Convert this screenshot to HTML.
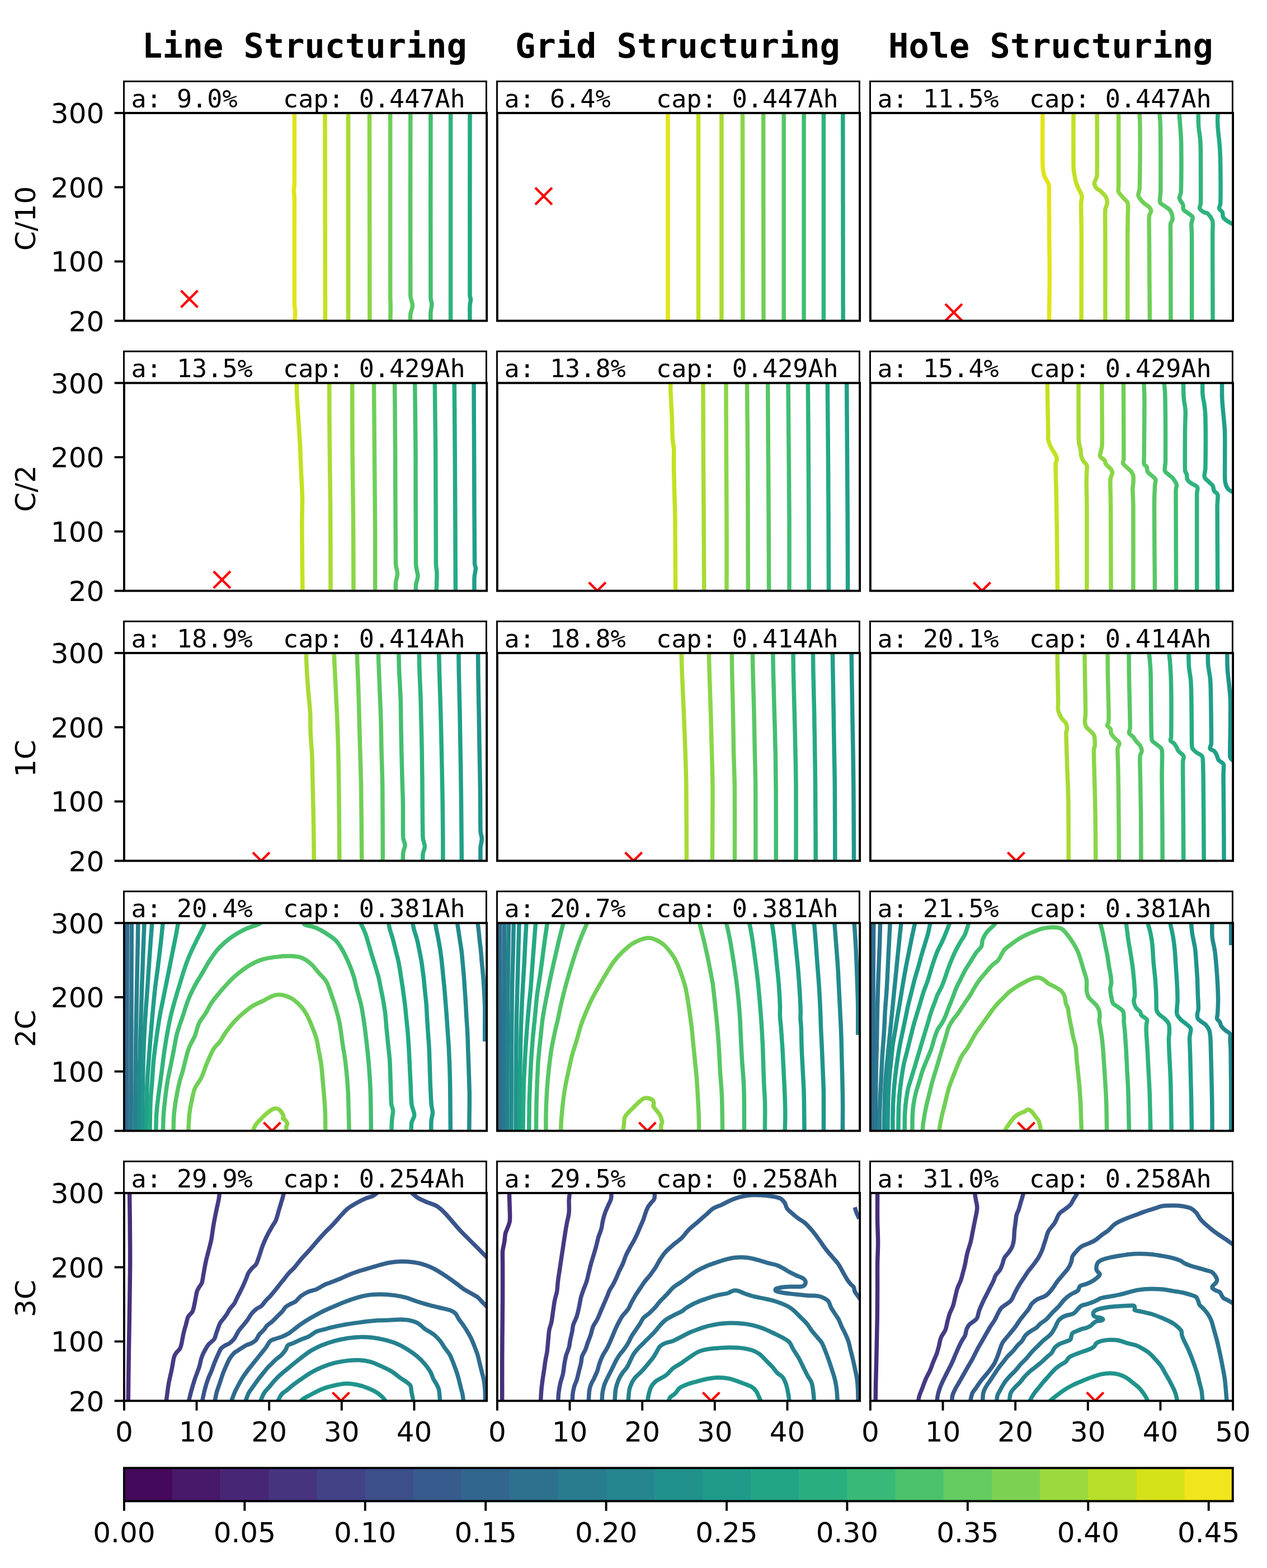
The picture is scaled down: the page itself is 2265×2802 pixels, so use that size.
<!DOCTYPE html>
<html><head><meta charset="utf-8"><title>Structuring contours</title><style>html,body{margin:0;padding:0;background:#fff;overflow:hidden;}svg{display:block;}</style></head><body>
<svg width="2265" height="2802" viewBox="0 0 2265 2802">
<rect x="0" y="0" width="2265" height="2802" fill="#ffffff"/>
<defs>
<clipPath id="cp00"><rect x="221.90" y="201.90" width="648.20" height="371.40"/></clipPath>
<clipPath id="cp01"><rect x="888.90" y="201.90" width="648.20" height="371.40"/></clipPath>
<clipPath id="cp02"><rect x="1555.90" y="201.90" width="648.20" height="371.40"/></clipPath>
<clipPath id="cp10"><rect x="221.90" y="684.40" width="648.20" height="371.40"/></clipPath>
<clipPath id="cp11"><rect x="888.90" y="684.40" width="648.20" height="371.40"/></clipPath>
<clipPath id="cp12"><rect x="1555.90" y="684.40" width="648.20" height="371.40"/></clipPath>
<clipPath id="cp20"><rect x="221.90" y="1166.90" width="648.20" height="371.40"/></clipPath>
<clipPath id="cp21"><rect x="888.90" y="1166.90" width="648.20" height="371.40"/></clipPath>
<clipPath id="cp22"><rect x="1555.90" y="1166.90" width="648.20" height="371.40"/></clipPath>
<clipPath id="cp30"><rect x="221.90" y="1649.40" width="648.20" height="371.40"/></clipPath>
<clipPath id="cp31"><rect x="888.90" y="1649.40" width="648.20" height="371.40"/></clipPath>
<clipPath id="cp32"><rect x="1555.90" y="1649.40" width="648.20" height="371.40"/></clipPath>
<clipPath id="cp40"><rect x="221.90" y="2131.90" width="648.20" height="371.40"/></clipPath>
<clipPath id="cp41"><rect x="888.90" y="2131.90" width="648.20" height="371.40"/></clipPath>
<clipPath id="cp42"><rect x="1555.90" y="2131.90" width="648.20" height="371.40"/></clipPath>
</defs>
<g clip-path="url(#cp00)" fill="none" stroke-width="7.5" stroke-linejoin="round" stroke-linecap="butt">
<path stroke="#e2e418" d="M526.3,195.6C526.3,218.2 526.5,307.3 526.3,331.3C526.2,334.9 525.2,336.6 525.2,340.1C525.2,343.8 526.2,348.0 526.3,353.2C526.5,386.8 526.0,507.2 526.3,541.5C526.3,548.5 527.8,553.2 527.8,559.0C527.8,564.9 526.5,573.6 526.3,576.5"/>
<path stroke="#c5e021" d="M581.0,195.6 L581.4,576.5"/>
<path stroke="#a8db34" d="M622.6,195.6 L622.6,576.5"/>
<path stroke="#8bd646" d="M660.5,195.6 L660.9,576.5"/>
<path stroke="#70cf57" d="M697.7,195.6C697.7,251.8 697.6,475.1 697.7,532.7C697.7,536.3 698.1,538.0 698.1,541.5C698.2,545.9 698.2,553.2 698.1,559.0C698.0,564.9 697.8,573.6 697.7,576.5"/>
<path stroke="#58c765" d="M733.8,195.6C733.8,251.1 733.2,470.0 733.8,528.4C733.9,535.5 737.5,540.4 737.5,545.9C737.5,551.4 734.4,556.1 733.8,561.2C733.2,566.3 733.8,574.0 733.8,576.5"/>
<path stroke="#42be71" d="M769.9,195.6C769.9,251.8 769.6,474.7 769.9,532.7C769.9,537.2 771.9,539.3 771.9,543.7C771.9,548.1 770.2,553.5 769.9,559.0C769.6,564.5 769.9,573.6 769.9,576.5"/>
<path stroke="#2fb47c" d="M805.6,195.6 L805.6,576.5"/>
<path stroke="#24aa83" d="M840.0,195.6C840.0,251.1 839.7,471.8 840.0,528.4C840.0,531.1 841.5,532.2 841.5,534.9C841.5,537.9 840.1,541.5 840.0,545.9C839.7,552.8 840.0,571.4 840.0,576.5"/>
<path d="M323.5,519.3L353.5,549.3M323.5,549.3L353.5,519.3" stroke="#ff0000" stroke-width="4.3" fill="none"/>
</g>
<g clip-path="url(#cp01)" fill="none" stroke-width="7.5" stroke-linejoin="round" stroke-linecap="butt">
<path stroke="#e2e418" d="M1193.9,190.4 L1193.9,581.8"/>
<path stroke="#c5e021" d="M1248.5,190.4 L1248.5,581.8"/>
<path stroke="#a8db34" d="M1289.9,190.4 L1289.9,581.8"/>
<path stroke="#8bd646" d="M1327.5,190.4 L1327.9,581.8"/>
<path stroke="#70cf57" d="M1364.6,190.4 L1365.0,581.8"/>
<path stroke="#58c765" d="M1401.2,190.4 L1401.2,581.8"/>
<path stroke="#42be71" d="M1437.1,190.4 L1437.1,581.8"/>
<path stroke="#2fb47c" d="M1472.4,190.4 L1472.4,581.8"/>
<path stroke="#24aa83" d="M1506.8,190.4 L1507.2,581.8"/>
<path d="M956.9,335.4L986.9,365.4M956.9,365.4L986.9,335.4" stroke="#ff0000" stroke-width="4.3" fill="none"/>
</g>
<g clip-path="url(#cp02)" fill="none" stroke-width="7.5" stroke-linejoin="round" stroke-linecap="butt">
<path stroke="#e2e418" d="M1863.9,190.4C1863.9,207.5 1863.5,272.4 1863.9,292.8C1864.1,301.1 1864.9,307.2 1866.6,313.3C1868.4,319.4 1873.2,324.3 1874.6,329.2C1876.0,334.2 1875.2,337.4 1875.3,342.9C1875.5,358.4 1875.6,397.9 1875.7,422.5C1875.9,447.2 1876.5,464.2 1876.4,490.8C1876.4,517.3 1875.5,566.6 1875.3,581.8"/>
<path stroke="#c5e021" d="M1919.0,190.4C1919.0,207.9 1918.8,275.4 1919.0,295.1C1919.0,300.6 1919.2,303.4 1920.1,308.8C1921.1,314.5 1922.4,322.4 1924.7,329.2C1926.9,336.1 1932.4,344.0 1933.8,349.7C1935.0,355.1 1932.7,357.9 1932.6,363.4C1932.6,375.5 1933.3,398.9 1933.3,422.5C1933.4,458.9 1933.1,555.3 1933.1,581.8"/>
<path stroke="#a8db34" d="M1961.1,190.4C1961.1,210.9 1961.8,290.6 1961.1,313.3C1960.9,319.1 1956.7,323.2 1956.5,327.0C1956.3,330.8 1958.0,333.6 1959.9,336.1C1961.8,338.5 1965.1,339.1 1967.9,341.8C1970.7,344.4 1975.1,348.4 1977.0,352.0C1978.9,355.6 1979.5,359.6 1979.3,363.4C1979.1,367.2 1976.1,370.0 1975.9,374.7C1975.3,384.6 1975.9,403.4 1975.9,422.5C1975.9,457.0 1975.9,555.3 1975.9,581.8"/>
<path stroke="#8bd646" d="M1999.7,190.4C1999.7,214.0 1999.7,306.1 1999.7,331.5C1999.7,336.1 1998.2,339.1 1999.7,342.9C2001.3,346.7 2006.1,350.9 2008.9,354.3C2011.6,357.7 2015.1,358.8 2016.1,363.4C2017.3,368.7 2016.2,377.0 2016.1,386.1C2016.1,396.0 2015.7,408.0 2015.7,422.5C2015.6,455.1 2015.7,555.3 2015.7,581.8"/>
<path stroke="#70cf57" d="M2036.2,190.4C2036.5,196.1 2037.9,210.9 2038.0,224.6C2038.2,248.8 2037.8,315.2 2037.3,336.1C2037.2,341.6 2034.1,345.5 2035.0,349.7C2036.0,353.9 2039.8,357.7 2043.0,361.1C2046.2,364.5 2051.9,367.5 2054.4,370.2C2056.4,372.4 2057.8,374.4 2057.8,377.0C2057.8,379.7 2054.6,382.2 2054.4,386.1C2053.8,393.7 2054.3,408.0 2054.4,422.5C2054.5,455.1 2055.3,555.3 2055.5,581.8"/>
<path stroke="#58c765" d="M2071.4,190.4C2071.9,196.1 2074.1,210.9 2074.4,224.6C2074.9,249.6 2074.9,317.9 2074.8,340.6C2074.8,348.8 2072.6,356.5 2073.7,361.1C2074.7,365.2 2078.8,365.6 2081.7,367.9C2084.5,370.2 2088.5,372.1 2090.8,374.7C2093.0,377.4 2094.5,380.8 2095.3,383.9C2096.1,386.9 2096.2,390.3 2095.8,393.0C2095.3,395.6 2092.9,396.8 2092.6,399.8C2092.1,404.7 2092.6,413.4 2092.6,422.5C2092.7,452.9 2093.0,555.3 2093.0,581.8"/>
<path stroke="#42be71" d="M2107.1,190.4C2107.6,196.9 2109.3,217.8 2110.1,229.1C2110.9,240.5 2111.6,246.9 2111.7,258.7C2111.9,277.7 2111.8,327.0 2111.2,342.9C2111.1,347.6 2107.9,350.5 2108.5,354.3C2109.1,358.1 2113.4,362.2 2114.7,365.6C2115.9,369.1 2114.1,372.1 2115.8,374.7C2117.5,377.4 2122.2,379.3 2124.9,381.6C2127.6,383.9 2131.3,385.4 2132.2,388.4C2133.0,391.4 2130.1,395.1 2129.9,399.8C2129.6,405.5 2130.5,413.4 2130.6,422.5C2130.7,452.9 2130.6,555.3 2130.6,581.8"/>
<path stroke="#2fb47c" d="M2142.4,190.4C2142.4,196.1 2142.1,214.3 2142.6,224.6C2143.2,234.8 2145.2,241.6 2145.8,251.9C2146.5,262.1 2146.4,272.4 2146.5,286.0C2146.6,304.6 2146.8,349.0 2146.5,363.4C2146.4,367.1 2143.7,369.8 2144.7,372.5C2145.6,375.1 2149.8,377.8 2152.2,379.3C2154.6,380.8 2156.9,379.6 2159.0,381.6C2161.5,383.9 2165.5,389.5 2167.0,393.0C2168.5,396.3 2168.0,398.4 2168.1,402.1C2168.2,407.0 2167.7,414.3 2167.7,422.5C2167.7,452.5 2168.0,555.3 2168.1,581.8"/>
<path stroke="#24aa83" d="M2177.7,190.4C2177.5,195.8 2176.3,210.2 2176.8,222.3C2177.3,234.4 2179.8,250.7 2180.6,263.3C2181.5,275.8 2181.6,283.7 2181.8,297.4C2182.0,314.1 2182.2,350.9 2181.8,363.4C2181.7,367.1 2178.9,369.8 2179.5,372.5C2180.1,375.1 2184.0,376.6 2185.2,379.3C2186.4,382.0 2185.3,385.7 2186.8,388.4C2188.3,391.1 2191.0,393.0 2194.3,395.2C2197.6,397.5 2204.7,400.9 2206.8,402.1"/>
<path d="M1690.0,543.2L1720.0,573.2M1690.0,573.2L1720.0,543.2" stroke="#ff0000" stroke-width="4.3" fill="none"/>
</g>
<g clip-path="url(#cp10)" fill="none" stroke-width="7.5" stroke-linejoin="round" stroke-linecap="butt">
<path stroke="#c5e021" d="M530.7,672.4C530.7,677.8 530.2,691.6 530.7,704.3C531.3,718.7 533.2,743.7 534.1,758.9C535.0,773.5 535.8,784.3 536.4,795.3C537.0,806.3 537.1,814.3 537.5,824.9C538.0,835.5 538.6,847.6 539.1,859.0C539.6,870.4 540.4,879.9 540.5,893.2C540.6,906.4 539.8,920.5 539.8,938.7C539.9,967.1 540.8,1042.9 541.0,1063.8"/>
<path stroke="#a8db34" d="M588.7,672.4C588.8,692.2 588.9,752.1 589.2,790.8C589.5,829.4 590.3,859.0 590.6,904.5C590.9,950.0 590.9,1037.3 591.0,1063.8"/>
<path stroke="#8bd646" d="M629.7,672.4C629.8,696.0 629.8,771.0 630.1,813.5C630.5,856.0 631.2,885.6 631.5,927.3C631.8,969.0 631.9,1041.1 632.0,1063.8"/>
<path stroke="#70cf57" d="M668.4,672.4C668.6,696.0 669.1,767.3 669.5,813.5C669.9,859.8 670.5,908.3 670.6,950.0C670.8,991.8 670.6,1044.8 670.6,1063.8"/>
<path stroke="#58c765" d="M705.5,672.4C705.7,696.0 706.3,757.8 706.6,813.5C706.9,869.3 706.9,971.7 707.5,1006.9C707.6,1014.3 710.5,1019.4 710.5,1025.1C710.5,1030.8 708.0,1034.6 707.5,1041.1C707.0,1047.5 707.5,1060.0 707.5,1063.8"/>
<path stroke="#42be71" d="M741.6,672.4C741.9,696.0 742.7,757.8 743.0,813.5C743.3,869.3 742.8,970.9 743.5,1006.9C743.6,1016.1 746.9,1023.2 746.9,1029.7C746.9,1036.1 744.0,1039.9 743.5,1045.6C743.0,1051.3 743.8,1060.8 743.9,1063.8"/>
<path stroke="#2fb47c" d="M777.1,672.4C777.4,696.0 778.3,757.8 778.7,813.5C779.1,869.3 779.0,971.7 779.4,1006.9C779.5,1014.2 780.9,1017.8 781.0,1025.1C781.1,1034.6 780.1,1057.4 779.9,1063.8"/>
<path stroke="#24aa83" d="M812.2,672.4C812.4,703.5 813.2,793.8 813.5,859.0C813.9,924.3 814.3,1029.7 814.4,1063.8"/>
<path stroke="#1fa088" d="M847.0,672.4C847.1,699.8 847.4,780.5 847.7,836.3C847.9,892.0 848.1,977.0 848.6,1006.9C848.6,1010.6 850.5,1012.3 850.4,1016.0C850.3,1020.2 848.4,1025.5 848.1,1031.9C847.7,1039.9 848.1,1058.5 848.1,1063.8"/>
<path d="M381.8,1021.1L411.8,1051.1M381.8,1051.1L411.8,1021.1" stroke="#ff0000" stroke-width="4.3" fill="none"/>
</g>
<g clip-path="url(#cp11)" fill="none" stroke-width="7.5" stroke-linejoin="round" stroke-linecap="butt">
<path stroke="#c5e021" d="M1198.9,672.4C1198.9,677.0 1198.6,688.8 1198.9,699.8C1199.3,711.9 1200.6,731.2 1201.2,745.3C1201.8,759.3 1201.8,774.5 1202.3,783.9C1202.8,791.3 1204.3,794.8 1204.6,802.1C1205.0,810.9 1204.4,823.0 1204.6,836.3C1204.8,849.5 1205.4,866.6 1205.7,881.8C1206.1,896.9 1206.7,909.1 1206.9,927.3C1207.2,957.6 1207.5,1041.1 1207.6,1063.8"/>
<path stroke="#a8db34" d="M1256.9,672.4C1257.0,696.0 1257.2,771.0 1257.4,813.5C1257.6,856.0 1257.8,885.6 1258.1,927.3C1258.3,969.0 1258.6,1041.1 1258.8,1063.8"/>
<path stroke="#8bd646" d="M1297.9,672.4C1298.0,696.0 1298.2,771.0 1298.4,813.5C1298.5,856.0 1298.9,885.6 1299.0,927.3C1299.1,969.0 1299.0,1041.1 1299.0,1063.8"/>
<path stroke="#70cf57" d="M1335.4,672.4C1335.6,696.0 1336.3,771.0 1336.6,813.5C1336.8,856.0 1336.9,885.6 1337.0,927.3C1337.1,969.0 1337.2,1041.1 1337.3,1063.8"/>
<path stroke="#58c765" d="M1372.5,672.4C1372.7,696.0 1373.2,771.0 1373.4,813.5C1373.7,856.0 1373.9,885.6 1374.1,927.3C1374.3,969.0 1374.5,1041.1 1374.6,1063.8"/>
<path stroke="#42be71" d="M1408.9,672.4C1409.1,696.0 1409.7,771.0 1410.1,813.5C1410.4,856.0 1410.8,885.6 1411.0,927.3C1411.1,969.0 1411.0,1041.1 1411.0,1063.8"/>
<path stroke="#2fb47c" d="M1444.2,672.4C1444.4,696.0 1445.1,771.0 1445.3,813.5C1445.6,856.0 1445.6,885.6 1445.8,927.3C1445.9,969.0 1446.2,1041.1 1446.2,1063.8"/>
<path stroke="#24aa83" d="M1479.2,672.4C1479.4,696.0 1480.1,771.0 1480.4,813.5C1480.7,856.0 1480.9,885.6 1481.1,927.3C1481.2,969.0 1481.4,1041.1 1481.5,1063.8"/>
<path stroke="#1fa088" d="M1513.6,672.4C1513.7,696.0 1514.2,771.0 1514.5,813.5C1514.8,856.0 1515.0,885.6 1515.2,927.3C1515.4,969.0 1515.6,1041.1 1515.6,1063.8"/>
<path d="M1052.8,1040.8L1082.8,1070.8M1052.8,1070.8L1082.8,1040.8" stroke="#ff0000" stroke-width="4.3" fill="none"/>
</g>
<g clip-path="url(#cp12)" fill="none" stroke-width="7.5" stroke-linejoin="round" stroke-linecap="butt">
<path stroke="#c5e021" d="M1872.3,672.4C1872.4,680.8 1872.5,705.8 1872.8,722.5C1873.1,739.2 1873.7,761.9 1873.9,772.6C1874.0,778.0 1873.1,781.7 1873.9,786.2C1874.8,790.8 1877.1,795.7 1879.2,799.9C1881.2,804.0 1884.3,807.8 1886.0,811.2C1887.7,814.7 1889.2,817.3 1889.4,820.3C1889.6,823.4 1887.2,825.7 1887.1,829.4C1886.9,839.7 1887.9,861.7 1888.3,881.8C1888.6,901.9 1889.1,922.7 1889.4,950.0C1889.8,980.4 1890.3,1044.8 1890.5,1063.8"/>
<path stroke="#a8db34" d="M1928.1,672.4C1928.1,688.4 1928.0,748.3 1928.1,768.0C1928.1,777.1 1928.1,784.7 1928.8,790.8C1929.4,796.3 1931.3,800.6 1931.9,804.4C1932.6,808.0 1931.9,810.5 1932.6,813.5C1933.3,816.6 1934.3,819.6 1936.0,822.6C1937.7,825.7 1941.7,828.7 1942.9,831.7C1944.0,834.8 1943.0,837.2 1942.9,840.8C1942.8,845.4 1942.2,851.7 1942.2,859.0C1942.2,869.6 1942.8,886.3 1942.9,904.5C1943.0,938.7 1942.9,1037.3 1942.9,1063.8"/>
<path stroke="#8bd646" d="M1969.7,672.4C1969.8,692.9 1970.5,772.9 1970.2,795.3C1970.1,800.0 1968.5,803.3 1967.9,806.7C1967.3,810.1 1965.6,813.1 1966.8,815.8C1967.9,818.4 1973.0,820.3 1974.7,822.6C1976.4,824.9 1975.3,827.1 1977.0,829.4C1978.9,832.1 1984.2,835.9 1986.1,838.5C1987.8,840.9 1988.6,842.5 1988.4,845.4C1988.2,848.4 1985.2,852.0 1985.0,856.7C1984.5,866.6 1985.5,885.4 1985.6,904.5C1985.8,939.0 1986.0,1037.3 1986.1,1063.8"/>
<path stroke="#70cf57" d="M2008.4,672.4C2008.5,697.1 2009.0,794.4 2008.9,820.3C2008.8,823.6 2006.6,825.7 2007.7,828.3C2008.9,831.0 2013.2,833.8 2015.7,836.3C2018.1,838.7 2020.8,840.8 2022.5,843.1C2024.2,845.4 2025.4,846.9 2025.9,849.9C2026.5,853.3 2026.1,859.8 2025.9,863.6C2025.7,867.2 2024.8,869.0 2024.8,872.7C2024.8,879.5 2025.8,891.8 2025.9,904.5C2026.1,936.4 2025.9,1037.3 2025.9,1063.8"/>
<path stroke="#58c765" d="M2044.1,672.4C2044.4,678.9 2045.8,695.6 2045.9,711.1C2046.1,734.6 2045.4,793.8 2045.3,813.5C2045.2,819.9 2044.5,826.0 2045.3,829.4C2045.8,832.0 2048.7,831.7 2049.8,834.0C2050.9,836.3 2050.1,840.4 2051.6,843.1C2053.1,845.8 2056.6,847.6 2058.9,849.9C2061.3,852.2 2064.8,853.7 2065.7,856.7C2066.7,859.8 2064.8,863.6 2064.6,868.1C2064.2,876.1 2063.5,890.0 2063.5,904.5C2063.5,937.1 2064.4,1037.3 2064.6,1063.8"/>
<path stroke="#42be71" d="M2079.4,672.4C2080.0,677.8 2082.5,691.5 2082.8,704.3C2083.5,729.7 2083.6,802.1 2083.5,824.9C2083.5,831.3 2081.5,837.0 2082.3,840.8C2083.1,844.4 2086.1,845.4 2088.5,847.6C2090.8,849.9 2094.0,851.4 2096.5,854.5C2098.9,857.5 2102.3,862.4 2103.3,865.9C2104.2,869.3 2102.2,871.3 2102.1,875.0C2101.9,881.4 2102.1,892.7 2102.1,904.5C2102.2,936.0 2102.5,1037.3 2102.6,1063.8"/>
<path stroke="#2fb47c" d="M2115.1,672.4C2115.3,678.9 2115.6,700.9 2116.2,711.1C2116.9,720.3 2118.8,724.7 2119.2,733.9C2119.6,743.4 2118.6,754.4 2118.5,768.0C2118.4,785.8 2118.0,827.5 2118.5,840.8C2118.6,843.8 2120.8,845.0 2121.5,847.6C2122.2,850.3 2121.3,854.1 2122.6,856.7C2123.9,859.4 2126.5,861.3 2129.4,863.6C2132.4,865.9 2138.7,867.4 2140.4,870.4C2142.1,873.4 2139.7,877.2 2139.7,881.8C2139.6,914.0 2139.7,1033.5 2139.7,1063.8"/>
<path stroke="#24aa83" d="M2149.9,672.4C2149.9,677.8 2149.4,696.0 2149.9,704.3C2150.4,711.7 2152.0,715.7 2152.9,722.5C2153.7,729.3 2154.8,736.1 2154.9,745.3C2155.3,764.2 2155.2,818.4 2154.9,836.3C2154.8,842.7 2152.3,848.0 2153.3,852.2C2154.4,856.4 2158.8,858.6 2161.3,861.3C2163.8,864.0 2166.6,865.5 2168.1,868.1C2169.6,870.8 2169.0,874.6 2170.4,877.2C2171.8,879.9 2176.0,880.4 2176.8,884.1C2177.7,888.6 2176.1,896.3 2176.1,904.5C2176.1,934.5 2176.7,1037.3 2176.8,1063.8"/>
<path stroke="#1fa088" d="M2184.7,672.4C2184.7,678.9 2184.3,699.0 2184.7,711.1C2185.2,723.3 2186.6,734.6 2187.5,745.3C2188.3,755.9 2189.5,763.0 2189.7,774.8C2190.1,793.0 2189.5,839.3 2189.7,854.5C2189.8,859.1 2190.2,862.4 2191.3,865.9C2192.5,869.3 2193.6,872.3 2196.6,875.0C2199.5,877.6 2207.0,880.6 2209.1,881.8"/>
<path d="M1740.5,1040.8L1770.5,1070.8M1740.5,1070.8L1770.5,1040.8" stroke="#ff0000" stroke-width="4.3" fill="none"/>
</g>
<g clip-path="url(#cp20)" fill="none" stroke-width="7.5" stroke-linejoin="round" stroke-linecap="butt">
<path stroke="#a8db34" d="M547.3,1155.4C547.4,1160.0 547.3,1171.8 547.8,1182.8C548.3,1194.9 549.4,1213.1 550.5,1228.3C551.6,1243.4 553.8,1260.5 554.6,1273.8C555.4,1287.0 554.5,1294.6 555.1,1307.9C555.6,1321.2 557.4,1340.1 558.0,1353.4C558.6,1366.7 558.4,1373.9 558.7,1387.5C559.1,1404.6 559.8,1429.2 560.3,1455.8C560.8,1482.3 561.2,1531.6 561.4,1546.8"/>
<path stroke="#8bd646" d="M597.4,1155.4C597.5,1160.0 597.4,1171.8 597.8,1182.8C598.3,1194.9 599.3,1211.2 600.1,1228.3C600.9,1245.3 602.1,1266.2 602.8,1285.1C603.6,1304.1 604.2,1321.2 604.7,1342.0C605.2,1362.9 605.5,1383.0 605.8,1410.3C606.2,1444.4 606.8,1524.1 606.9,1546.8"/>
<path stroke="#70cf57" d="M638.3,1155.4C638.4,1160.0 638.5,1171.8 638.8,1182.8C639.2,1194.9 640.0,1211.2 640.6,1228.3C641.2,1245.3 641.7,1266.2 642.2,1285.1C642.7,1304.1 643.2,1321.2 643.8,1342.0C644.4,1362.9 645.2,1383.0 645.6,1410.3C646.1,1444.4 646.6,1524.1 646.8,1546.8"/>
<path stroke="#58c765" d="M676.3,1155.4C676.4,1160.0 676.5,1171.8 676.8,1182.8C677.2,1194.9 677.9,1211.2 678.6,1228.3C679.3,1245.3 680.3,1266.2 680.9,1285.1C681.5,1304.1 681.5,1321.2 682.0,1342.0C682.5,1362.9 683.5,1383.0 683.8,1410.3C684.2,1444.4 684.2,1524.1 684.3,1546.8"/>
<path stroke="#42be71" d="M712.7,1155.4C712.9,1161.9 712.9,1178.7 713.4,1194.1C714.0,1210.1 715.5,1230.2 716.2,1251.0C716.8,1271.9 716.8,1296.5 717.3,1319.3C717.7,1342.0 718.4,1368.6 718.9,1387.5C719.4,1405.7 719.9,1414.8 720.3,1433.0C720.6,1451.2 720.1,1483.9 720.7,1496.7C721.0,1502.4 724.1,1505.8 724.1,1510.4C724.1,1514.9 721.3,1518.5 720.7,1524.1C720.1,1530.1 720.3,1543.0 720.3,1546.8"/>
<path stroke="#2fb47c" d="M749.1,1155.4C749.3,1161.9 749.4,1178.7 749.8,1194.1C750.3,1210.1 751.5,1230.2 752.1,1251.0C752.7,1271.9 753.2,1296.5 753.7,1319.3C754.2,1342.0 754.5,1360.2 754.8,1387.5C755.2,1417.1 755.2,1475.9 756.0,1496.7C756.2,1503.3 759.4,1507.7 759.4,1512.7C759.4,1517.6 756.5,1520.7 756.0,1526.3C755.4,1532.0 756.0,1543.4 756.0,1546.8"/>
<path stroke="#24aa83" d="M784.4,1155.4C784.6,1163.8 785.0,1185.8 785.6,1205.5C786.1,1225.2 787.2,1251.0 787.8,1273.8C788.5,1296.5 788.9,1319.3 789.4,1342.0C789.9,1364.8 790.4,1387.5 790.8,1410.3C791.2,1433.0 791.5,1455.8 791.7,1478.5C791.9,1501.3 791.9,1535.4 791.9,1546.8"/>
<path stroke="#1fa088" d="M819.7,1155.4C819.8,1163.8 820.0,1185.8 820.4,1205.5C820.7,1225.2 821.5,1251.0 822.0,1273.8C822.4,1296.5 822.7,1319.3 823.1,1342.0C823.5,1364.8 823.9,1387.5 824.2,1410.3C824.5,1433.0 824.7,1455.8 824.9,1478.5C825.1,1501.3 825.3,1535.4 825.4,1546.8"/>
<path stroke="#1f958b" d="M854.5,1155.4C854.6,1163.8 854.7,1185.8 854.9,1205.5C855.2,1225.2 855.7,1251.0 856.1,1273.8C856.5,1296.5 856.8,1319.3 857.2,1342.0C857.6,1364.8 858.1,1386.4 858.4,1410.3C858.7,1434.2 858.6,1470.6 859.0,1485.4C859.2,1490.9 861.3,1494.1 861.3,1499.0C861.3,1504.0 859.4,1508.5 859.0,1514.9C858.7,1522.9 859.0,1541.5 859.0,1546.8"/>
<path d="M451.9,1523.3L481.9,1553.3M451.9,1553.3L481.9,1523.3" stroke="#ff0000" stroke-width="4.3" fill="none"/>
</g>
<g clip-path="url(#cp21)" fill="none" stroke-width="7.5" stroke-linejoin="round" stroke-linecap="butt">
<path stroke="#a8db34" d="M1217.8,1155.4C1218.1,1163.8 1218.6,1185.8 1219.4,1205.5C1220.2,1225.2 1221.4,1251.0 1222.4,1273.8C1223.3,1296.5 1224.3,1319.3 1225.1,1342.0C1225.8,1364.8 1226.6,1383.0 1226.9,1410.3C1227.3,1444.4 1227.3,1524.1 1227.4,1546.8"/>
<path stroke="#8bd646" d="M1267.2,1155.4C1267.4,1163.8 1267.7,1185.8 1268.3,1205.5C1268.9,1225.2 1269.9,1251.0 1270.6,1273.8C1271.3,1296.5 1271.8,1319.3 1272.4,1342.0C1273.0,1364.8 1273.9,1383.0 1274.0,1410.3C1274.2,1444.4 1273.4,1524.1 1273.3,1546.8"/>
<path stroke="#70cf57" d="M1308.1,1155.4C1308.2,1163.8 1308.4,1185.8 1308.8,1205.5C1309.2,1225.2 1310.0,1251.0 1310.4,1273.8C1310.9,1296.5 1311.1,1319.3 1311.5,1342.0C1312.0,1364.8 1313.1,1383.0 1313.4,1410.3C1313.7,1444.4 1313.4,1524.1 1313.4,1546.8"/>
<path stroke="#58c765" d="M1345.2,1155.4C1345.4,1163.8 1345.7,1185.8 1346.1,1205.5C1346.6,1225.2 1347.4,1251.0 1348.0,1273.8C1348.5,1296.5 1348.9,1319.3 1349.3,1342.0C1349.8,1364.8 1350.5,1383.0 1350.7,1410.3C1350.9,1444.4 1350.9,1524.1 1350.9,1546.8"/>
<path stroke="#42be71" d="M1381.6,1155.4C1381.8,1163.8 1382.1,1185.8 1382.5,1205.5C1383.0,1225.2 1383.8,1251.0 1384.4,1273.8C1385.0,1296.5 1385.7,1319.3 1386.2,1342.0C1386.6,1364.8 1386.9,1383.0 1387.1,1410.3C1387.3,1444.4 1387.3,1524.1 1387.3,1546.8"/>
<path stroke="#2fb47c" d="M1417.8,1155.4C1417.9,1163.8 1418.1,1185.8 1418.5,1205.5C1418.9,1225.2 1419.7,1251.0 1420.3,1273.8C1420.9,1296.5 1421.4,1319.3 1421.9,1342.0C1422.4,1364.8 1422.9,1383.0 1423.0,1410.3C1423.2,1444.4 1423.0,1524.1 1423.0,1546.8"/>
<path stroke="#24aa83" d="M1453.3,1155.4C1453.4,1163.8 1453.6,1185.8 1454.0,1205.5C1454.4,1225.2 1455.1,1251.0 1455.6,1273.8C1456.0,1296.5 1456.4,1319.3 1456.7,1342.0C1457.1,1364.8 1457.4,1383.0 1457.6,1410.3C1457.9,1444.4 1458.2,1524.1 1458.3,1546.8"/>
<path stroke="#1fa088" d="M1488.3,1155.4C1488.5,1163.8 1488.7,1185.8 1489.0,1205.5C1489.3,1225.2 1489.8,1251.0 1490.2,1273.8C1490.5,1296.5 1490.9,1319.3 1491.3,1342.0C1491.7,1364.8 1492.2,1383.0 1492.4,1410.3C1492.7,1444.4 1492.8,1524.1 1492.9,1546.8"/>
<path stroke="#1f958b" d="M1522.0,1155.4C1522.1,1163.8 1522.4,1185.8 1522.7,1205.5C1523.0,1225.2 1523.5,1251.0 1523.8,1273.8C1524.2,1296.5 1524.6,1319.3 1525.0,1342.0C1525.3,1364.8 1525.7,1383.0 1525.9,1410.3C1526.1,1444.4 1526.5,1524.1 1526.6,1546.8"/>
<path d="M1117.6,1523.3L1147.6,1553.3M1117.6,1553.3L1147.6,1523.3" stroke="#ff0000" stroke-width="4.3" fill="none"/>
</g>
<g clip-path="url(#cp22)" fill="none" stroke-width="7.5" stroke-linejoin="round" stroke-linecap="butt">
<path stroke="#a8db34" d="M1890.1,1155.4C1890.2,1161.9 1890.3,1178.7 1890.5,1194.1C1890.8,1210.1 1891.5,1238.5 1891.7,1251.0C1891.8,1258.3 1890.7,1263.9 1891.7,1269.2C1892.6,1274.5 1895.1,1279.1 1897.4,1282.9C1899.6,1286.7 1903.6,1288.9 1905.3,1292.0C1907.0,1295.0 1907.5,1298.0 1907.6,1301.1C1907.7,1304.1 1906.0,1306.5 1906.0,1310.2C1906.0,1320.8 1907.0,1344.3 1907.6,1364.8C1908.2,1385.3 1909.5,1405.7 1909.9,1433.0C1910.3,1463.4 1910.3,1527.8 1910.3,1546.8"/>
<path stroke="#8bd646" d="M1938.8,1155.4C1938.9,1163.8 1939.2,1185.8 1939.5,1205.5C1939.8,1225.2 1940.6,1259.7 1940.6,1273.8C1940.6,1280.2 1939.3,1285.5 1939.5,1289.7C1939.6,1293.4 1940.0,1295.9 1941.7,1298.8C1943.4,1301.6 1947.3,1304.1 1949.7,1306.8C1952.1,1309.4 1954.9,1310.8 1956.1,1314.7C1957.3,1319.1 1957.3,1328.8 1957.2,1332.9C1957.1,1335.7 1955.4,1336.9 1955.4,1339.7C1955.3,1348.9 1956.1,1368.4 1956.5,1387.5C1957.0,1406.9 1957.7,1429.2 1958.1,1455.8C1958.5,1482.3 1958.7,1531.6 1958.8,1546.8"/>
<path stroke="#70cf57" d="M1980.0,1155.4C1980.0,1163.8 1980.1,1185.8 1980.4,1205.5C1980.8,1225.2 1981.8,1259.4 1982.0,1273.8C1982.1,1281.0 1982.0,1288.2 1981.5,1292.0C1981.3,1294.0 1978.6,1294.6 1979.3,1296.5C1980.0,1298.4 1984.5,1301.1 1985.6,1303.3C1986.8,1305.6 1985.0,1307.7 1986.1,1310.2C1987.3,1312.8 1990.6,1316.6 1992.9,1319.3C1995.3,1321.9 1998.9,1324.2 2000.2,1326.1C2001.3,1327.6 2001.2,1328.8 2000.9,1330.6C2000.5,1332.5 1998.1,1334.5 1997.9,1337.5C1997.6,1343.2 1998.4,1353.9 1998.6,1364.8C1998.9,1380.7 1999.5,1405.7 1999.7,1433.0C2000.1,1463.4 2000.3,1527.8 2000.4,1546.8"/>
<path stroke="#58c765" d="M2018.0,1155.4C2018.0,1163.8 2018.1,1185.8 2018.4,1205.5C2018.7,1225.2 2019.5,1257.8 2019.8,1273.8C2020.0,1284.7 2020.4,1295.0 2020.2,1301.1C2020.1,1304.8 2017.7,1307.5 2018.6,1310.2C2019.6,1312.8 2023.9,1314.7 2025.9,1317.0C2027.9,1319.3 2028.4,1321.2 2030.5,1323.8C2032.6,1326.5 2036.6,1329.9 2038.4,1332.9C2040.2,1336.0 2041.2,1339.0 2041.2,1342.0C2041.1,1345.1 2038.2,1347.3 2038.0,1351.1C2037.5,1358.7 2038.2,1373.0 2038.4,1387.5C2038.7,1405.0 2039.3,1429.2 2039.6,1455.8C2039.8,1482.3 2039.9,1531.6 2040.0,1546.8"/>
<path stroke="#42be71" d="M2053.2,1155.4C2053.8,1161.9 2055.9,1182.0 2056.6,1194.1C2057.3,1206.3 2057.1,1215.0 2057.3,1228.3C2057.5,1241.5 2057.6,1259.4 2057.8,1273.8C2058.0,1288.2 2058.1,1306.4 2058.5,1314.7C2058.6,1318.4 2058.5,1321.2 2060.0,1323.8C2061.6,1326.5 2065.4,1328.4 2068.0,1330.6C2070.7,1332.9 2074.4,1334.8 2076.0,1337.5C2077.6,1340.1 2077.5,1342.9 2077.6,1346.6C2077.8,1354.9 2077.1,1371.1 2077.1,1387.5C2077.1,1405.7 2077.6,1429.2 2077.8,1455.8C2078.0,1482.3 2078.2,1531.6 2078.2,1546.8"/>
<path stroke="#2fb47c" d="M2088.5,1155.4C2089.1,1160.8 2091.0,1175.2 2091.9,1187.3C2092.8,1199.4 2093.5,1211.9 2093.7,1228.3C2094.0,1249.9 2093.9,1301.1 2093.7,1317.0C2093.7,1319.8 2091.7,1321.9 2092.6,1323.8C2093.4,1325.7 2096.9,1326.5 2098.7,1328.4C2100.5,1330.3 2101.9,1332.9 2103.3,1335.2C2104.6,1337.5 2104.8,1339.6 2106.7,1342.0C2108.8,1344.7 2114.5,1348.1 2115.8,1351.1C2117.1,1354.2 2114.8,1356.6 2114.7,1360.2C2114.5,1366.3 2114.6,1376.6 2114.7,1387.5C2114.8,1403.5 2115.1,1429.2 2115.3,1455.8C2115.5,1482.3 2115.7,1531.6 2115.8,1546.8"/>
<path stroke="#24aa83" d="M2124.9,1155.4C2125.0,1161.1 2124.7,1179.3 2125.3,1189.6C2126.0,1199.8 2128.0,1206.6 2128.8,1216.9C2129.5,1227.1 2129.7,1237.4 2129.9,1251.0C2130.2,1270.0 2130.3,1316.2 2130.6,1330.6C2130.6,1333.4 2130.4,1335.2 2131.7,1337.5C2133.0,1339.7 2135.7,1342.0 2138.5,1344.3C2141.4,1346.6 2146.8,1348.5 2148.8,1351.1C2150.8,1353.8 2150.1,1356.5 2150.4,1360.2C2150.8,1366.3 2150.9,1376.6 2151.1,1387.5C2151.3,1403.5 2151.6,1429.2 2151.7,1455.8C2151.9,1482.3 2152.1,1531.6 2152.2,1546.8"/>
<path stroke="#1fa088" d="M2159.5,1155.4C2159.5,1160.8 2159.0,1177.4 2159.7,1187.3C2160.4,1197.2 2162.7,1204.0 2163.6,1214.6C2164.4,1225.2 2164.5,1236.4 2164.7,1251.0C2165.0,1270.0 2165.7,1314.0 2165.4,1328.4C2165.3,1332.1 2162.3,1335.2 2163.1,1337.5C2164.0,1339.7 2168.4,1340.1 2170.4,1342.0C2172.4,1343.9 2173.6,1346.2 2174.9,1348.9C2176.3,1351.5 2176.4,1355.3 2178.4,1358.0C2180.3,1360.6 2185.3,1362.5 2186.8,1364.8C2188.3,1367.1 2187.4,1368.9 2187.5,1371.6C2187.5,1375.4 2187.0,1381.2 2187.0,1387.5C2187.0,1401.6 2187.5,1429.2 2187.7,1455.8C2187.9,1482.3 2188.1,1531.6 2188.1,1546.8"/>
<path stroke="#1f958b" d="M2193.8,1155.4C2193.9,1161.9 2193.7,1182.8 2194.3,1194.1C2194.9,1205.5 2196.4,1214.2 2197.2,1223.7C2198.1,1233.2 2199.2,1240.1 2199.5,1251.0C2199.9,1263.1 2199.6,1279.8 2199.5,1296.5C2199.4,1313.2 2198.7,1341.3 2198.8,1351.1C2198.9,1353.1 2199.2,1354.2 2200.4,1355.7C2201.8,1357.4 2205.7,1360.4 2206.8,1361.4"/>
<path d="M1801.5,1523.3L1831.5,1553.3M1801.5,1553.3L1831.5,1523.3" stroke="#ff0000" stroke-width="4.3" fill="none"/>
</g>
<g clip-path="url(#cp30)" fill="none" stroke-width="7.5" stroke-linejoin="round" stroke-linecap="butt">
<path stroke="#2f6c8e" d="M227.3,1640.0C227.2,1666.7 227.0,1736.0 227.0,1800.0C226.9,1865.0 227.0,1991.7 227.0,2030.0"/>
<path stroke="#2a768e" d="M235.3,1640.0C235.2,1660.8 235.1,1721.7 235.0,1765.0C234.9,1808.3 234.7,1855.8 234.5,1900.0C234.3,1944.2 234.1,2008.3 234.0,2030.0"/>
<path stroke="#26818e" d="M247.0,1640.0C246.8,1650.0 246.4,1679.2 246.0,1700.0C245.6,1720.8 245.1,1740.0 244.6,1765.0C244.1,1790.0 243.4,1820.8 243.0,1850.0C242.6,1879.2 242.2,1910.0 242.0,1940.0C241.8,1970.0 241.6,2015.0 241.5,2030.0"/>
<path stroke="#228b8d" d="M258.4,1640.0C258.0,1650.0 256.8,1679.2 256.0,1700.0C255.2,1720.8 254.4,1740.0 253.6,1765.0C252.8,1790.0 251.8,1820.8 251.0,1850.0C250.2,1879.2 249.5,1910.0 249.0,1940.0C248.5,1970.0 248.2,2015.0 248.0,2030.0"/>
<path stroke="#1f958b" d="M272.5,1640.0C271.8,1650.0 269.5,1679.2 268.0,1700.0C266.5,1720.8 265.1,1743.3 263.6,1765.0C262.1,1786.7 260.3,1807.5 259.0,1830.0C257.7,1852.5 256.7,1872.0 256.0,1900.0C255.2,1933.3 254.3,2008.3 254.0,2030.0"/>
<path stroke="#1fa088" d="M292.0,1640.0C291.3,1646.7 289.7,1665.0 288.0,1680.0C286.3,1695.0 283.8,1715.8 282.0,1730.0C280.3,1744.0 279.0,1751.0 277.4,1765.0C275.7,1780.0 273.7,1800.8 272.0,1820.0C270.3,1839.2 268.5,1860.0 267.0,1880.0C265.5,1900.0 264.0,1916.0 263.0,1940.0C261.9,1965.0 260.9,2015.0 260.5,2030.0"/>
<path stroke="#24aa83" d="M319.8,1643.9C319.6,1644.6 319.1,1646.2 318.8,1647.8C318.0,1652.1 316.5,1660.9 314.9,1669.4C313.3,1677.9 311.3,1687.3 309.0,1698.8C306.7,1710.2 303.8,1724.9 301.2,1737.9C298.6,1751.0 296.0,1764.0 293.3,1777.1C290.7,1790.2 287.8,1803.2 285.5,1816.3C283.2,1829.3 281.4,1842.4 279.6,1855.4C277.8,1868.5 276.0,1881.5 274.7,1894.6C273.4,1907.7 272.8,1920.7 271.8,1933.8C270.8,1946.8 269.5,1957.3 268.9,1972.9C268.2,1988.6 268.0,2018.6 267.9,2027.8"/>
<path stroke="#2fb47c" d="M366.8,1643.9C366.3,1645.9 365.7,1651.2 363.8,1655.7C361.4,1661.5 356.1,1671.0 352.1,1679.2C348.1,1687.3 343.5,1696.5 340.0,1704.6C336.4,1712.8 334.0,1719.3 330.9,1728.1C327.9,1736.9 324.7,1747.7 321.7,1757.5C318.7,1767.3 315.7,1777.1 312.9,1786.9C310.1,1796.7 307.4,1806.5 305.1,1816.3C302.8,1826.1 301.0,1835.8 299.2,1845.6C297.4,1855.4 295.8,1865.2 294.3,1875.0C292.8,1884.8 291.7,1894.6 290.4,1904.4C289.1,1914.2 287.8,1924.0 286.5,1933.8C285.2,1943.6 283.7,1953.4 282.6,1963.1C281.4,1972.9 280.3,1981.8 279.6,1992.5C279.0,2003.3 278.8,2021.9 278.7,2027.8"/>
<path stroke="#42be71" d="M469.6,1645.9C468.3,1646.9 465.3,1650.1 461.8,1651.8C456.9,1654.0 447.4,1656.3 440.2,1659.6C433.0,1662.8 424.9,1667.4 418.7,1671.3C412.5,1675.3 408.2,1678.5 403.0,1683.1C397.8,1687.7 392.2,1692.9 387.3,1698.8C382.5,1704.6 378.2,1711.2 373.6,1718.3C369.1,1725.5 364.2,1734.7 359.9,1741.8C355.7,1749.0 352.1,1753.9 348.2,1761.4C344.3,1768.9 340.0,1777.7 336.4,1786.9C332.8,1796.0 329.9,1806.5 326.6,1816.3C323.4,1826.1 319.5,1835.8 316.8,1845.6C314.2,1855.4 312.9,1865.2 311.0,1875.0C309.0,1884.8 307.0,1894.6 305.1,1904.4C303.1,1914.2 300.8,1924.0 299.2,1933.8C297.6,1943.6 296.4,1953.4 295.3,1963.1C294.2,1972.9 293.0,1981.8 292.4,1992.5C291.7,2003.3 291.5,2021.9 291.4,2027.8"/>
<path stroke="#58c765" d="M310.0,2027.8C310.1,2021.9 310.1,2003.3 311.0,1992.5C311.8,1981.8 313.3,1972.9 314.9,1963.1C316.5,1953.4 318.8,1941.9 320.8,1933.8C322.7,1925.8 324.7,1921.4 326.6,1914.2C328.6,1907.0 330.6,1897.9 332.5,1890.7C334.5,1883.5 335.8,1877.6 338.4,1871.1C341.0,1864.6 345.2,1858.7 348.2,1851.5C351.1,1844.3 352.7,1834.9 356.0,1828.0C359.3,1821.2 364.2,1816.3 367.8,1810.4C371.4,1804.5 373.6,1798.6 377.6,1792.8C381.5,1786.9 386.7,1780.7 391.3,1775.1C395.8,1769.6 400.1,1764.7 405.0,1759.5C409.9,1754.2 414.1,1749.3 420.6,1743.8C427.2,1738.3 436.0,1731.1 444.1,1726.2C452.3,1721.3 460.5,1717.2 469.6,1714.4C478.7,1711.6 490.5,1710.5 499.0,1709.5C507.5,1708.5 513.8,1708.2 520.5,1708.5C527.2,1708.9 533.2,1709.2 539.1,1711.5C544.9,1713.8 550.6,1717.8 555.7,1722.3C560.7,1726.7 564.8,1732.7 569.4,1737.9C573.9,1743.1 579.5,1747.7 583.1,1753.6C586.7,1759.5 588.3,1766.0 590.9,1773.2C593.5,1780.4 596.1,1787.9 598.8,1796.7C601.4,1805.5 604.3,1814.6 606.6,1826.1C608.9,1837.5 610.5,1852.2 612.5,1865.2C614.4,1878.3 616.7,1889.7 618.3,1904.4C620.0,1919.1 621.3,1933.7 622.3,1953.4C623.2,1973.9 623.9,2015.4 624.2,2027.8"/>
<path stroke="#70cf57" d="M336.4,2027.8C336.8,2021.9 337.4,2002.3 338.4,1992.5C339.3,1983.0 340.7,1976.9 342.3,1969.0C343.9,1961.2 345.2,1952.7 348.2,1945.5C351.1,1938.3 356.3,1933.4 359.9,1925.9C363.5,1918.4 366.1,1909.0 369.7,1900.5C373.3,1892.0 377.6,1881.5 381.5,1875.0C385.2,1868.8 389.6,1866.2 393.2,1861.3C396.8,1856.4 399.1,1851.2 403.0,1845.6C406.9,1840.1 412.2,1833.2 416.7,1828.0C421.3,1822.8 424.9,1819.2 430.4,1814.3C436.0,1809.4 443.5,1802.9 450.0,1798.6C456.5,1794.4 463.1,1792.1 469.6,1788.8C476.1,1785.6 483.3,1780.8 489.2,1779.1C495.1,1777.3 499.3,1777.1 504.9,1778.1C510.4,1779.1 516.9,1781.5 522.5,1784.9C528.0,1788.4 533.9,1794.1 538.1,1798.6C542.3,1803.2 544.6,1806.5 547.8,1812.3C551.1,1818.2 554.7,1826.7 557.6,1833.9C560.6,1841.1 563.5,1848.6 565.5,1855.4C567.4,1862.3 567.9,1867.2 569.4,1875.0C570.8,1882.9 573.0,1892.6 574.3,1902.4C575.6,1912.2 576.1,1921.2 577.2,1933.8C578.4,1947.2 580.4,1967.1 581.1,1982.7C581.9,1998.4 581.6,2020.3 581.7,2027.8"/>
<path stroke="#8bd646" d="M449.0,2029.7C450.2,2026.8 453.1,2017.0 455.9,2012.1C458.7,2007.2 462.7,2003.6 465.7,2000.4C468.6,1997.1 470.6,1995.1 473.5,1992.5C476.5,1989.9 480.4,1986.7 483.3,1984.7C486.2,1982.7 488.5,1981.1 491.1,1980.8C493.8,1980.4 496.9,1981.4 499.0,1982.7C501.1,1984.0 502.6,1986.7 503.9,1988.6C505.2,1990.6 506.5,1992.9 506.8,1994.5C507.1,1996.1 505.2,1997.1 505.8,1998.4C506.5,1999.7 509.4,2000.7 510.7,2002.3C512.0,2004.0 513.5,2006.2 513.7,2008.2C513.8,2010.2 511.7,2011.6 511.7,2014.1C511.7,2017.7 513.3,2027.1 513.7,2029.7"/>
<path stroke="#42be71" d="M542.9,1643.9C543.1,1645.2 541.3,1650.0 543.9,1651.8C547.3,1654.0 557.6,1655.3 563.5,1657.6C569.4,1659.9 573.3,1661.9 579.2,1665.5C585.0,1669.1 593.5,1674.3 598.8,1679.2C604.0,1684.1 606.6,1688.3 610.5,1694.8C614.4,1701.4 618.7,1710.2 622.3,1718.3C625.8,1726.5 629.4,1735.6 632.0,1743.8C634.7,1752.0 635.6,1758.5 637.9,1767.3C640.2,1776.1 643.6,1786.9 645.8,1796.7C647.9,1806.5 649.0,1814.6 650.7,1826.1C652.3,1837.5 654.1,1852.2 655.6,1865.2C657.0,1878.3 658.3,1889.7 659.5,1904.4C660.6,1919.1 661.8,1933.7 662.4,1953.4C663.1,1973.9 663.2,2015.4 663.4,2027.8"/>
<path stroke="#2fb47c" d="M640.9,1643.9C641.7,1645.2 644.1,1648.4 645.8,1651.8C647.9,1656.0 651.3,1663.2 653.6,1669.4C655.9,1675.6 657.5,1682.4 659.5,1689.0C661.4,1695.5 663.1,1701.0 665.3,1708.5C667.6,1716.1 671.2,1727.5 673.2,1734.0C674.8,1739.5 675.8,1742.2 677.1,1747.7C678.4,1753.3 679.7,1760.8 681.0,1767.3C682.3,1773.8 683.6,1779.4 684.9,1786.9C686.2,1794.4 687.9,1804.2 688.8,1812.3C689.8,1820.5 690.0,1827.0 690.8,1835.8C691.6,1844.7 692.8,1855.4 693.7,1865.2C694.7,1875.0 695.9,1883.2 696.7,1894.6C697.4,1906.0 697.8,1920.7 698.2,1933.8C698.7,1946.8 698.9,1964.5 699.6,1972.9C700.0,1977.8 702.4,1979.9 702.6,1984.7C702.7,1989.6 701.1,1995.2 700.6,2002.3C700.1,2009.5 699.8,2023.5 699.6,2027.8"/>
<path stroke="#24aa83" d="M693.7,1643.9C694.2,1646.5 695.2,1653.7 696.7,1659.6C698.1,1665.5 700.6,1672.0 702.6,1679.2C704.5,1686.4 706.8,1696.1 708.4,1702.7C710.0,1708.9 711.1,1712.0 712.3,1718.3C713.7,1724.9 715.0,1733.7 716.3,1741.8C717.6,1750.0 718.9,1758.2 720.2,1767.3C721.5,1776.4 723.1,1788.5 724.1,1796.7C725.0,1804.5 725.3,1808.4 726.1,1816.3C726.9,1824.4 728.2,1835.8 729.0,1845.6C729.8,1855.4 730.3,1863.6 731.0,1875.0C731.6,1886.4 732.4,1904.4 732.9,1914.2C733.3,1922.0 733.5,1925.9 733.9,1933.8C734.4,1943.6 734.7,1963.1 735.8,1972.9C736.8,1981.0 740.7,1987.0 740.7,1992.5C740.7,1998.1 736.8,2000.5 735.8,2006.2C734.9,2012.1 735.0,2024.2 734.9,2027.8"/>
<path stroke="#1fa088" d="M736.8,1643.9C737.3,1646.5 738.3,1653.7 739.8,1659.6C741.2,1665.5 743.8,1672.0 745.6,1679.2C747.4,1686.4 749.2,1696.1 750.5,1702.7C751.8,1708.9 752.5,1712.0 753.5,1718.3C754.6,1725.8 756.4,1739.6 757.4,1747.7C758.3,1755.5 758.6,1759.5 759.3,1767.3C760.2,1775.5 761.6,1788.5 762.3,1796.7C762.9,1804.5 762.8,1808.4 763.3,1816.3C763.8,1824.4 764.6,1835.8 765.2,1845.6C765.9,1855.4 766.7,1865.2 767.2,1875.0C767.7,1884.8 767.8,1894.6 768.2,1904.4C768.5,1914.2 768.7,1922.3 769.1,1933.8C769.6,1945.2 770.4,1963.8 771.1,1972.9C771.6,1979.3 773.5,1983.7 773.5,1988.6C773.5,1993.5 771.5,1996.8 771.1,2002.3C770.6,2008.8 770.8,2023.5 770.7,2027.8"/>
<path stroke="#1f958b" d="M777.4,1643.9C777.8,1646.5 778.8,1653.7 779.9,1659.6C781.0,1665.5 782.6,1672.6 783.8,1679.2C785.0,1685.7 786.2,1692.2 787.2,1698.8C788.1,1705.3 788.8,1710.5 789.7,1718.3C790.6,1726.5 791.8,1739.6 792.6,1747.7C793.4,1755.6 793.9,1759.5 794.6,1767.3C795.3,1775.5 796.3,1788.5 797.0,1796.7C797.6,1804.5 798.0,1808.4 798.5,1816.3C799.1,1824.4 799.8,1835.8 800.5,1845.6C801.1,1855.4 801.8,1863.6 802.4,1875.0C803.0,1886.4 803.6,1901.1 804.0,1914.2C804.4,1927.2 804.6,1937.7 804.8,1953.4C805.0,1972.3 805.3,2015.4 805.4,2027.8"/>
<path stroke="#228b8d" d="M816.5,1643.9C817.0,1646.5 818.2,1653.7 819.1,1659.6C820.0,1665.5 821.0,1672.6 822.0,1679.2C823.0,1685.7 824.1,1692.2 825.0,1698.8C825.8,1705.3 826.2,1710.5 826.9,1718.3C827.7,1726.5 828.8,1739.6 829.5,1747.7C830.1,1755.5 830.3,1759.5 830.8,1767.3C831.4,1775.5 832.3,1788.5 832.8,1796.7C833.3,1804.5 833.3,1808.4 833.8,1816.3C834.3,1824.4 835.2,1835.8 835.7,1845.6C836.2,1855.4 836.3,1863.6 836.7,1875.0C837.1,1886.4 837.7,1901.1 838.1,1914.2C838.5,1927.2 839.1,1943.6 839.3,1953.4C839.4,1961.2 839.3,1965.1 839.3,1972.9C839.2,1985.3 838.8,2018.6 838.7,2027.8"/>
<path stroke="#26818e" d="M853.0,1643.9C853.4,1646.5 854.6,1653.7 855.3,1659.6C856.0,1665.5 856.6,1672.6 857.3,1679.2C858.0,1685.7 859.0,1692.2 859.6,1698.8C860.3,1705.3 860.6,1711.8 861.2,1718.3C861.8,1724.9 862.6,1731.4 863.1,1737.9C863.7,1744.5 864.2,1749.7 864.7,1757.5C865.3,1767.3 866.3,1783.6 866.7,1796.7C867.0,1809.7 866.7,1825.1 866.7,1835.8C866.7,1846.0 866.7,1857.1 866.7,1861.3"/>
<path d="M471.4,2005.8L501.4,2035.8M471.4,2035.8L501.4,2005.8" stroke="#ff0000" stroke-width="4.3" fill="none"/>
</g>
<g clip-path="url(#cp31)" fill="none" stroke-width="7.5" stroke-linejoin="round" stroke-linecap="butt">
<path stroke="#2f6c8e" d="M894.1,1643.9C894.1,1645.2 893.8,1648.6 893.8,1651.8C893.7,1683.7 893.8,1772.9 893.8,1835.8C893.7,1898.8 893.4,1997.4 893.4,2029.7"/>
<path stroke="#2a768e" d="M901.6,1643.9C901.6,1645.2 901.6,1648.6 901.6,1651.8C901.5,1670.7 901.2,1717.0 901.0,1757.5C900.8,1798.0 900.7,1849.2 900.6,1894.6C900.5,1940.0 900.3,2007.2 900.2,2029.7"/>
<path stroke="#26818e" d="M909.4,1643.9C909.4,1645.2 909.5,1648.6 909.4,1651.8C909.3,1664.2 908.8,1694.2 908.4,1718.3C908.1,1742.5 907.7,1767.3 907.5,1796.7C907.2,1826.1 907.2,1855.8 907.1,1894.6C906.9,1933.4 906.6,2007.2 906.5,2029.7"/>
<path stroke="#228b8d" d="M918.6,1643.9C918.6,1645.2 918.3,1648.6 918.2,1651.8C918.0,1660.9 917.7,1681.1 917.3,1698.8C916.8,1716.4 916.1,1737.9 915.7,1757.5C915.3,1777.1 915.1,1793.4 914.9,1816.3C914.7,1839.1 914.5,1863.3 914.3,1894.6C914.2,1930.2 914.0,2007.2 913.9,2029.7"/>
<path stroke="#1f958b" d="M928.4,1643.9C928.4,1645.2 928.1,1648.6 928.0,1651.8C927.7,1660.9 927.1,1681.1 926.7,1698.8C926.2,1716.4 925.6,1737.9 925.1,1757.5C924.6,1777.1 923.9,1796.7 923.5,1816.3C923.1,1835.8 923.0,1852.2 922.7,1875.0C922.5,1897.9 922.2,1927.6 922.1,1953.4C922.1,1979.1 922.1,2017.0 922.1,2029.7"/>
<path stroke="#1fa088" d="M941.1,1643.9C941.1,1645.2 940.9,1648.6 940.8,1651.8C940.4,1659.3 939.4,1676.2 938.8,1689.0C938.1,1701.7 937.7,1713.4 936.8,1728.1C936.0,1742.8 934.8,1759.1 933.9,1777.1C933.0,1795.0 932.0,1816.3 931.4,1835.8C930.7,1855.4 930.4,1875.0 930.0,1894.6C929.6,1914.2 929.2,1930.8 929.0,1953.4C928.8,1975.9 928.7,2017.0 928.6,2029.7"/>
<path stroke="#24aa83" d="M958.0,1643.9C957.9,1645.2 957.6,1648.6 957.4,1651.8C956.8,1659.3 955.4,1676.2 954.5,1689.0C953.5,1701.7 952.5,1715.1 951.5,1728.1C950.5,1741.2 949.7,1754.2 948.6,1767.3C947.4,1780.4 946.0,1791.8 944.7,1806.5C943.4,1821.2 941.9,1839.1 940.8,1855.4C939.6,1871.8 938.6,1888.1 937.8,1904.4C937.0,1920.7 936.3,1933.8 935.9,1953.4C935.4,1974.2 935.0,2017.0 934.9,2029.7"/>
<path stroke="#2fb47c" d="M978.9,1643.9C978.8,1645.2 978.4,1648.6 978.0,1651.8C977.1,1657.6 975.4,1669.7 974.0,1679.2C972.7,1688.6 971.4,1698.8 970.1,1708.5C968.8,1718.3 967.8,1726.5 966.2,1737.9C964.6,1749.3 962.0,1764.0 960.3,1777.1C958.7,1790.2 957.7,1803.2 956.4,1816.3C955.1,1829.3 953.6,1842.4 952.5,1855.4C951.4,1868.5 950.4,1881.5 949.6,1894.6C948.8,1907.7 948.2,1920.7 947.6,1933.8C947.1,1946.8 946.6,1957.3 946.2,1972.9C945.9,1988.9 945.7,2020.3 945.7,2029.7"/>
<path stroke="#42be71" d="M1007.3,1643.9C1007.2,1645.2 1007.0,1648.7 1006.4,1651.8C1005.1,1657.6 1001.6,1670.4 999.5,1679.2C997.4,1688.0 995.6,1696.1 993.6,1704.6C991.7,1713.1 989.7,1721.3 987.8,1730.1C985.8,1738.9 983.8,1748.0 981.9,1757.5C979.9,1767.0 978.0,1776.4 976.0,1786.9C974.0,1797.3 971.8,1808.8 970.1,1820.2C968.5,1831.6 967.5,1843.0 966.2,1855.4C964.9,1867.8 963.3,1881.5 962.3,1894.6C961.3,1907.7 960.9,1920.7 960.3,1933.8C959.8,1946.8 959.3,1957.3 959.0,1972.9C958.6,1988.9 958.5,2020.3 958.4,2029.7"/>
<path stroke="#58c765" d="M1050.4,1643.9C1050.1,1645.2 1049.6,1648.7 1048.5,1651.8C1046.5,1657.0 1041.9,1666.8 1038.7,1675.3C1035.4,1683.7 1032.2,1692.9 1028.9,1702.7C1025.6,1712.5 1022.0,1724.2 1019.1,1734.0C1016.2,1743.8 1013.9,1751.6 1011.3,1761.4C1008.6,1771.2 1005.7,1783.0 1003.4,1792.8C1001.1,1802.6 999.5,1811.4 997.6,1820.2C995.6,1829.0 993.6,1836.5 991.7,1845.6C989.7,1854.8 987.4,1865.2 985.8,1875.0C984.2,1884.8 983.0,1894.6 981.9,1904.4C980.7,1914.2 979.8,1924.0 978.9,1933.8C978.1,1943.6 977.5,1953.4 977.0,1963.1C976.5,1972.9 976.2,1981.4 976.0,1992.5C975.8,2003.6 976.0,2023.5 976.0,2029.7"/>
<path stroke="#70cf57" d="M1002.4,2029.7C1002.6,2025.2 1002.6,2013.3 1003.4,2002.3C1004.2,1991.2 1006.0,1973.9 1007.3,1963.1C1008.6,1952.9 1009.6,1946.5 1011.3,1937.7C1012.9,1928.9 1015.2,1919.1 1017.1,1910.3C1019.1,1901.5 1020.7,1893.3 1023.0,1884.8C1025.3,1876.3 1028.2,1868.2 1030.8,1859.3C1033.5,1850.5 1035.7,1840.7 1038.7,1831.9C1041.6,1823.1 1045.2,1814.3 1048.5,1806.5C1051.7,1798.6 1054.7,1792.1 1058.3,1784.9C1061.9,1777.7 1065.8,1770.9 1070.0,1763.4C1074.3,1755.9 1079.2,1747.4 1083.7,1739.9C1088.3,1732.4 1092.5,1724.9 1097.4,1718.3C1102.3,1711.8 1107.2,1706.3 1113.1,1700.7C1119.0,1695.2 1125.5,1689.1 1132.7,1685.0C1139.9,1681.0 1149.7,1677.2 1156.2,1676.2C1162.5,1675.3 1166.6,1677.0 1171.9,1679.2C1177.1,1681.3 1183.0,1685.0 1187.5,1689.0C1192.1,1692.9 1196.0,1698.4 1199.3,1702.7C1202.5,1706.9 1204.4,1709.5 1207.0,1714.4C1209.6,1719.3 1212.1,1724.8 1214.8,1732.0C1217.8,1739.9 1222.3,1753.3 1224.6,1761.4C1226.8,1769.1 1227.2,1773.5 1228.5,1781.0C1229.8,1788.5 1231.2,1797.3 1232.5,1806.5C1233.8,1815.6 1235.2,1826.1 1236.4,1835.8C1237.5,1845.6 1238.3,1855.4 1239.3,1865.2C1240.3,1875.0 1241.3,1884.8 1242.3,1894.6C1243.2,1904.4 1244.4,1914.2 1245.2,1924.0C1246.0,1933.8 1246.5,1941.9 1247.1,1953.4C1247.8,1964.8 1248.7,1979.8 1249.1,1992.5C1249.5,2005.3 1249.6,2023.5 1249.7,2029.7"/>
<path stroke="#8bd646" d="M1112.1,2029.7C1112.6,2026.8 1114.2,2017.7 1115.1,2012.1C1115.9,2006.6 1115.7,2000.4 1117.0,1996.4C1118.3,1992.7 1120.3,1991.5 1122.9,1988.6C1125.5,1985.7 1129.7,1981.8 1132.7,1978.8C1135.6,1975.9 1137.6,1973.6 1140.5,1971.0C1143.5,1968.4 1147.4,1964.6 1150.3,1963.1C1153.1,1961.7 1155.4,1961.7 1158.1,1962.2C1160.9,1962.7 1165.2,1964.3 1167.0,1966.1C1168.8,1967.9 1168.8,1971.1 1168.9,1972.9C1169.1,1974.6 1167.3,1975.4 1167.9,1976.9C1168.8,1978.8 1171.9,1982.1 1173.8,1984.7C1175.8,1987.3 1178.2,1989.9 1179.7,1992.5C1181.2,1995.1 1182.0,1998.1 1182.6,2000.4C1183.3,2002.6 1183.8,2004.3 1183.6,2006.2C1183.4,2008.2 1181.8,2009.6 1181.6,2012.1C1181.5,2016.0 1182.5,2026.8 1182.6,2029.7"/>
<path stroke="#58c765" d="M1249.1,1643.9C1249.4,1645.2 1250.3,1648.6 1251.1,1651.8C1252.5,1657.6 1255.8,1670.4 1257.9,1679.2C1260.0,1688.0 1261.8,1695.5 1263.8,1704.6C1265.8,1713.8 1267.9,1724.5 1269.7,1734.0C1271.5,1743.5 1273.1,1751.0 1274.6,1761.4C1276.0,1771.9 1277.2,1784.3 1278.5,1796.7C1279.8,1809.1 1281.3,1822.8 1282.4,1835.8C1283.5,1848.9 1284.5,1862.0 1285.3,1875.0C1286.2,1888.1 1286.5,1901.1 1287.3,1914.2C1288.1,1927.2 1289.6,1940.3 1290.2,1953.4C1290.9,1966.4 1291.0,1979.8 1291.2,1992.5C1291.4,2005.3 1291.5,2023.5 1291.6,2029.7"/>
<path stroke="#42be71" d="M1297.1,1643.9C1297.4,1645.2 1298.3,1648.6 1299.0,1651.8C1300.4,1657.6 1303.0,1668.7 1304.9,1679.2C1306.9,1689.6 1309.0,1703.0 1310.8,1714.4C1312.6,1725.8 1314.2,1736.6 1315.7,1747.7C1317.2,1758.8 1318.5,1769.6 1319.6,1781.0C1320.8,1792.4 1321.7,1803.9 1322.6,1816.3C1323.4,1828.7 1323.9,1842.4 1324.5,1855.4C1325.2,1868.5 1325.7,1881.5 1326.5,1894.6C1327.3,1907.7 1328.8,1920.7 1329.4,1933.8C1330.1,1946.8 1330.2,1957.3 1330.4,1972.9C1330.5,1988.9 1330.4,2020.3 1330.4,2029.7"/>
<path stroke="#2fb47c" d="M1338.2,1643.9C1338.5,1645.2 1339.6,1648.6 1340.2,1651.8C1341.3,1657.6 1343.4,1668.7 1345.1,1679.2C1346.7,1689.6 1348.3,1702.0 1350.0,1714.4C1351.6,1726.8 1353.4,1739.9 1354.9,1753.6C1356.3,1767.3 1357.6,1783.0 1358.8,1796.7C1359.9,1810.4 1360.9,1822.8 1361.7,1835.8C1362.5,1848.9 1363.1,1859.3 1363.7,1875.0C1364.3,1891.3 1365.0,1917.5 1365.6,1933.8C1366.3,1949.4 1367.3,1957.3 1367.6,1972.9C1367.9,1988.9 1367.3,2020.3 1367.2,2029.7"/>
<path stroke="#24aa83" d="M1378.4,1643.9C1378.7,1645.2 1379.8,1648.6 1380.3,1651.8C1381.3,1657.6 1382.9,1668.2 1384.2,1679.2C1385.5,1690.3 1386.9,1705.3 1388.2,1718.3C1389.5,1731.4 1391.0,1744.5 1392.1,1757.5C1393.1,1770.6 1394.0,1786.9 1394.4,1796.7C1394.7,1804.5 1394.1,1809.7 1394.4,1816.3C1394.7,1822.8 1395.6,1828.0 1396.2,1835.8C1396.9,1845.6 1398.1,1862.0 1398.9,1875.0C1399.7,1888.1 1400.2,1901.1 1400.9,1914.2C1401.5,1927.2 1402.4,1940.3 1402.8,1953.4C1403.3,1966.4 1403.8,1979.8 1403.8,1992.5C1403.8,2005.3 1403.0,2023.5 1402.8,2029.7"/>
<path stroke="#1fa088" d="M1416.6,1643.9C1416.9,1645.2 1418.1,1648.5 1418.5,1651.8C1419.5,1659.3 1421.1,1676.2 1422.4,1689.0C1423.7,1701.7 1425.2,1715.1 1426.3,1728.1C1427.5,1741.2 1428.5,1754.2 1429.3,1767.3C1430.1,1780.4 1431.0,1797.7 1431.2,1806.5C1431.4,1812.0 1430.7,1815.3 1430.9,1820.2C1431.0,1825.1 1432.0,1829.6 1432.2,1835.8C1432.6,1845.0 1432.7,1862.0 1433.2,1875.0C1433.7,1888.1 1434.5,1901.1 1435.2,1914.2C1435.8,1927.2 1436.7,1937.7 1437.1,1953.4C1437.6,1972.6 1437.9,2017.0 1438.1,2029.7"/>
<path stroke="#1f958b" d="M1454.2,1643.9C1454.4,1645.2 1455.4,1648.6 1455.7,1651.8C1456.5,1659.3 1457.7,1676.2 1458.7,1689.0C1459.6,1701.7 1460.6,1715.1 1461.6,1728.1C1462.6,1741.2 1463.7,1754.2 1464.5,1767.3C1465.4,1780.4 1466.0,1795.0 1466.5,1806.5C1467.0,1817.9 1467.0,1824.4 1467.5,1835.8C1468.0,1847.3 1468.8,1862.0 1469.4,1875.0C1470.0,1888.1 1470.5,1901.1 1471.0,1914.2C1471.5,1927.2 1472.2,1937.7 1472.4,1953.4C1472.6,1972.6 1472.4,2017.0 1472.4,2029.7"/>
<path stroke="#228b8d" d="M1491.0,1643.9C1491.1,1645.2 1491.7,1648.6 1492.0,1651.8C1492.6,1659.3 1493.9,1676.2 1494.9,1689.0C1495.9,1701.7 1497.0,1715.1 1497.8,1728.1C1498.7,1741.2 1499.1,1754.2 1499.8,1767.3C1500.4,1780.4 1501.1,1793.4 1501.8,1806.5C1502.4,1819.5 1503.2,1832.6 1503.7,1845.6C1504.2,1858.7 1504.4,1871.8 1504.7,1884.8C1505.0,1897.9 1505.3,1909.3 1505.7,1924.0C1506.0,1938.7 1506.5,1955.3 1506.6,1972.9C1506.7,1990.6 1506.3,2020.3 1506.3,2029.7"/>
<path stroke="#26818e" d="M1525.8,1643.9C1526.1,1645.2 1526.9,1648.6 1527.2,1651.8C1527.8,1657.6 1528.5,1668.2 1529.2,1679.2C1529.8,1690.3 1530.6,1705.3 1531.1,1718.3C1531.7,1731.4 1532.1,1744.5 1532.5,1757.5C1532.9,1770.6 1533.5,1781.3 1533.7,1796.7C1533.9,1812.0 1533.7,1840.7 1533.7,1849.6"/>
<path d="M1142.3,2005.8L1172.3,2035.8M1142.3,2035.8L1172.3,2005.8" stroke="#ff0000" stroke-width="4.3" fill="none"/>
</g>
<g clip-path="url(#cp32)" fill="none" stroke-width="7.5" stroke-linejoin="round" stroke-linecap="butt">
<path stroke="#2f6c8e" d="M1561.7,1643.9C1561.7,1645.2 1561.7,1648.6 1561.7,1651.8C1561.6,1670.7 1561.3,1720.3 1561.1,1757.5C1561.0,1794.7 1560.9,1829.6 1560.8,1875.0C1560.6,1920.4 1560.4,2004.0 1560.4,2029.7"/>
<path stroke="#2a768e" d="M1573.9,1643.9C1573.8,1645.2 1573.6,1648.6 1573.5,1651.8C1573.3,1659.3 1573.0,1674.6 1572.5,1689.0C1572.0,1703.3 1571.2,1720.0 1570.5,1737.9C1569.9,1755.9 1569.1,1777.1 1568.6,1796.7C1568.1,1816.3 1568.0,1835.8 1567.6,1855.4C1567.2,1875.0 1566.6,1894.6 1566.2,1914.2C1565.9,1933.8 1565.7,1953.7 1565.6,1972.9C1565.5,1992.2 1565.6,2020.3 1565.6,2029.7"/>
<path stroke="#26818e" d="M1591.7,1643.9C1591.6,1645.2 1591.3,1648.6 1591.1,1651.8C1590.7,1659.3 1589.8,1676.2 1589.1,1689.0C1588.5,1701.7 1587.8,1715.1 1587.2,1728.1C1586.5,1741.2 1586.0,1754.2 1585.2,1767.3C1584.4,1780.4 1583.1,1793.4 1582.3,1806.5C1581.5,1819.5 1581.2,1832.6 1580.3,1845.6C1579.5,1858.7 1578.2,1871.8 1577.4,1884.8C1576.6,1897.9 1576.1,1910.9 1575.4,1924.0C1574.8,1937.0 1574.0,1951.7 1573.5,1963.1C1573.0,1974.6 1572.7,1981.4 1572.5,1992.5C1572.3,2003.6 1572.2,2023.5 1572.1,2029.7"/>
<path stroke="#228b8d" d="M1611.3,1643.9C1611.2,1645.2 1611.0,1648.6 1610.7,1651.8C1610.1,1657.6 1608.7,1669.7 1607.8,1679.2C1606.8,1688.6 1605.8,1698.8 1604.8,1708.5C1603.8,1718.3 1602.9,1728.1 1601.9,1737.9C1600.9,1747.7 1599.9,1757.5 1598.9,1767.3C1598.0,1777.1 1597.0,1786.9 1596.0,1796.7C1595.0,1806.5 1594.0,1816.3 1593.1,1826.1C1592.1,1835.8 1591.1,1845.6 1590.1,1855.4C1589.1,1865.2 1588.2,1875.0 1587.2,1884.8C1586.2,1894.6 1585.1,1904.4 1584.3,1914.2C1583.4,1924.0 1582.8,1933.8 1582.3,1943.6C1581.8,1953.4 1581.6,1963.1 1581.3,1972.9C1581.1,1982.7 1580.9,1992.9 1580.7,2002.3C1580.6,2011.8 1580.4,2025.2 1580.3,2029.7"/>
<path stroke="#1f958b" d="M1636.2,1643.9C1636.0,1645.2 1635.8,1648.6 1635.2,1651.8C1634.4,1656.0 1632.6,1663.2 1631.3,1669.4C1630.0,1675.6 1628.6,1682.4 1627.3,1689.0C1626.0,1695.5 1624.7,1702.0 1623.4,1708.5C1622.1,1715.1 1620.8,1721.3 1619.5,1728.1C1618.2,1735.0 1616.9,1742.2 1615.6,1749.7C1614.3,1757.2 1613.0,1765.3 1611.7,1773.2C1610.4,1781.0 1609.1,1788.8 1607.8,1796.7C1606.4,1804.5 1605.1,1812.3 1603.8,1820.2C1602.5,1828.0 1601.2,1835.8 1599.9,1843.7C1598.6,1851.5 1597.1,1858.7 1596.0,1867.2C1594.9,1875.7 1594.0,1885.1 1593.1,1894.6C1592.1,1904.1 1590.9,1914.2 1590.1,1924.0C1589.3,1933.8 1588.7,1941.9 1588.2,1953.4C1587.7,1964.8 1587.4,1979.8 1587.2,1992.5C1587.0,2005.3 1586.9,2023.5 1586.8,2029.7"/>
<path stroke="#1fa088" d="M1664.6,1643.9C1664.2,1645.2 1663.3,1648.6 1662.6,1651.8C1661.6,1656.0 1660.3,1663.2 1658.7,1669.4C1657.0,1675.6 1654.8,1682.4 1652.8,1689.0C1650.8,1695.5 1648.9,1701.7 1646.9,1708.5C1645.0,1715.4 1643.0,1723.2 1641.0,1730.1C1639.1,1736.9 1637.1,1742.5 1635.2,1749.7C1633.2,1756.9 1631.3,1765.3 1629.3,1773.2C1627.3,1781.0 1625.2,1788.8 1623.4,1796.7C1621.6,1804.5 1620.2,1812.3 1618.5,1820.2C1616.9,1828.0 1615.3,1835.8 1613.6,1843.7C1612.0,1851.5 1610.2,1859.3 1608.7,1867.2C1607.3,1875.0 1606.0,1882.9 1604.8,1890.7C1603.6,1898.5 1602.5,1906.4 1601.5,1914.2C1600.5,1922.0 1599.7,1929.5 1598.9,1937.7C1598.2,1945.8 1597.5,1954.0 1597.0,1963.1C1596.5,1972.3 1596.2,1981.4 1596.0,1992.5C1595.8,2003.6 1596.0,2023.5 1596.0,2029.7"/>
<path stroke="#24aa83" d="M1698.8,1643.9C1698.5,1645.2 1697.9,1648.7 1696.9,1651.8C1695.4,1656.0 1692.1,1664.2 1690.0,1669.4C1687.9,1674.6 1686.4,1678.2 1684.1,1683.1C1681.9,1688.0 1678.6,1693.5 1676.3,1698.8C1674.0,1704.0 1672.4,1708.9 1670.4,1714.4C1668.5,1720.0 1666.5,1725.8 1664.6,1732.0C1662.6,1738.3 1661.0,1744.8 1658.7,1751.6C1656.4,1758.5 1653.1,1766.3 1650.8,1773.2C1648.6,1780.0 1646.9,1786.2 1645.0,1792.8C1643.0,1799.3 1641.0,1805.8 1639.1,1812.3C1637.1,1818.9 1635.2,1824.7 1633.2,1831.9C1631.3,1839.1 1629.3,1847.6 1627.3,1855.4C1625.4,1863.3 1623.4,1871.1 1621.5,1878.9C1619.5,1886.8 1617.2,1894.6 1615.6,1902.4C1614.0,1910.3 1612.8,1918.1 1611.7,1925.9C1610.5,1933.8 1609.5,1941.6 1608.7,1949.4C1607.9,1957.3 1607.2,1965.8 1606.8,1972.9C1606.4,1980.1 1606.3,1984.7 1606.2,1992.5C1606.0,2002.0 1605.9,2023.5 1605.8,2029.7"/>
<path stroke="#2fb47c" d="M1733.1,1643.9C1732.8,1645.2 1732.1,1648.7 1731.1,1651.8C1729.8,1656.0 1727.2,1664.8 1725.3,1669.4C1723.5,1673.6 1721.7,1675.3 1719.4,1679.2C1717.1,1683.1 1713.8,1688.6 1711.6,1692.9C1709.3,1697.1 1707.6,1700.4 1705.7,1704.6C1703.7,1708.9 1701.8,1713.4 1699.8,1718.3C1697.8,1723.2 1695.6,1729.4 1693.9,1734.0C1692.3,1738.6 1691.6,1741.2 1690.0,1745.8C1688.4,1750.3 1686.4,1756.2 1684.1,1761.4C1681.9,1766.6 1678.6,1771.9 1676.3,1777.1C1674.0,1782.3 1672.4,1787.5 1670.4,1792.8C1668.5,1798.0 1666.5,1802.6 1664.6,1808.4C1662.6,1814.3 1660.6,1821.5 1658.7,1828.0C1656.7,1834.5 1654.8,1841.1 1652.8,1847.6C1650.8,1854.1 1648.9,1860.7 1646.9,1867.2C1645.0,1873.7 1643.0,1880.2 1641.0,1886.8C1639.1,1893.3 1637.1,1899.8 1635.2,1906.4C1633.2,1912.9 1631.3,1919.4 1629.3,1925.9C1627.3,1932.5 1625.1,1938.3 1623.4,1945.5C1621.8,1952.7 1620.5,1961.2 1619.5,1969.0C1618.5,1976.9 1617.9,1983.1 1617.5,1992.5C1617.2,2002.6 1617.2,2023.5 1617.2,2029.7"/>
<path stroke="#42be71" d="M1780.1,1643.9C1779.8,1645.2 1780.0,1649.1 1778.1,1651.8C1775.5,1655.3 1768.0,1660.9 1764.4,1665.5C1760.8,1670.0 1758.2,1674.9 1756.6,1679.2C1755.0,1683.4 1756.6,1687.0 1754.6,1690.9C1752.7,1694.8 1748.1,1698.1 1744.8,1702.7C1741.6,1707.2 1738.3,1713.1 1735.1,1718.3C1731.8,1723.6 1728.2,1728.8 1725.3,1734.0C1722.3,1739.2 1720.0,1744.5 1717.4,1749.7C1714.8,1754.9 1711.9,1760.1 1709.6,1765.3C1707.3,1770.6 1706.0,1775.1 1703.7,1781.0C1701.4,1786.9 1698.2,1794.7 1695.9,1800.6C1693.6,1806.5 1692.0,1811.7 1690.0,1816.3C1688.1,1820.8 1686.4,1824.1 1684.1,1828.0C1681.9,1831.9 1678.6,1835.2 1676.3,1839.8C1674.0,1844.3 1672.4,1849.6 1670.4,1855.4C1668.5,1861.3 1666.8,1868.5 1664.6,1875.0C1662.3,1881.5 1659.3,1888.1 1656.7,1894.6C1654.1,1901.1 1651.2,1907.7 1648.9,1914.2C1646.6,1920.7 1645.0,1927.2 1643.0,1933.8C1641.0,1940.3 1638.8,1946.8 1637.1,1953.4C1635.5,1959.9 1634.2,1966.4 1633.2,1972.9C1632.2,1979.5 1631.6,1984.7 1631.3,1992.5C1630.9,2002.0 1630.9,2023.5 1630.9,2029.7"/>
<path stroke="#58c765" d="M1648.9,2029.7C1649.0,2026.8 1649.2,2018.3 1649.9,2012.1C1650.5,2005.9 1651.7,1999.1 1652.8,1992.5C1653.9,1986.0 1655.2,1979.5 1656.7,1972.9C1658.2,1966.4 1660.0,1959.9 1661.6,1953.4C1663.2,1946.8 1664.7,1940.3 1666.5,1933.8C1668.3,1927.2 1670.4,1920.7 1672.4,1914.2C1674.3,1907.7 1676.3,1901.1 1678.3,1894.6C1680.2,1888.1 1682.2,1881.5 1684.1,1875.0C1686.1,1868.5 1688.1,1862.0 1690.0,1855.4C1692.0,1848.9 1693.6,1841.4 1695.9,1835.8C1698.2,1830.3 1701.1,1826.1 1703.7,1822.1C1706.3,1818.2 1708.9,1815.9 1711.6,1812.3C1714.2,1808.8 1716.8,1804.5 1719.4,1800.6C1722.0,1796.7 1724.6,1792.8 1727.2,1788.8C1729.8,1784.9 1732.4,1781.3 1735.1,1777.1C1737.7,1772.9 1740.3,1767.6 1742.9,1763.4C1745.5,1759.1 1747.8,1755.6 1750.7,1751.6C1753.7,1747.7 1756.9,1744.1 1760.5,1739.9C1764.1,1735.6 1768.3,1730.1 1772.3,1726.2C1776.2,1722.3 1781.1,1719.6 1784.0,1716.4C1787.0,1713.1 1787.9,1709.9 1789.9,1706.6C1791.9,1703.3 1793.2,1699.7 1795.8,1696.8C1798.4,1693.9 1801.6,1691.9 1805.6,1689.0C1809.5,1686.0 1814.7,1682.1 1819.3,1679.2C1823.8,1676.2 1828.4,1673.6 1833.0,1671.3C1837.5,1669.1 1841.8,1667.4 1846.7,1665.5C1851.6,1663.5 1856.5,1661.0 1862.4,1659.6C1868.2,1658.2 1876.0,1657.1 1881.9,1657.1C1887.7,1657.1 1893.3,1657.5 1897.5,1659.6C1901.7,1661.6 1904.0,1665.5 1907.3,1669.4C1910.6,1673.3 1913.8,1677.9 1917.1,1683.1C1920.4,1688.3 1924.3,1694.8 1926.9,1700.7C1929.5,1706.6 1930.8,1712.1 1932.8,1718.3C1934.7,1724.5 1937.0,1732.4 1938.6,1737.9C1940.2,1743.4 1941.9,1746.4 1942.5,1751.6C1943.2,1756.9 1942.1,1764.4 1942.5,1769.3C1943.0,1774.1 1943.9,1777.7 1945.5,1781.0C1947.1,1784.3 1949.9,1786.2 1952.3,1788.8C1954.8,1791.5 1958.1,1793.7 1960.2,1796.7C1962.3,1799.6 1964.1,1803.2 1965.1,1806.5C1966.0,1809.7 1966.0,1813.3 1966.0,1816.3C1966.0,1819.2 1964.9,1820.9 1965.1,1824.1C1965.2,1827.4 1966.3,1831.1 1967.0,1835.8C1967.8,1841.1 1969.1,1848.9 1970.0,1855.4C1970.8,1862.0 1971.3,1867.2 1971.9,1875.0C1972.6,1883.2 1973.2,1894.6 1973.9,1904.4C1974.5,1914.2 1975.2,1922.3 1975.8,1933.8C1976.5,1945.2 1977.3,1957.3 1977.8,1972.9C1978.3,1988.9 1978.6,2020.3 1978.8,2029.7"/>
<path stroke="#70cf57" d="M1678.3,2029.7C1678.6,2026.8 1679.2,2018.3 1680.2,2012.1C1681.2,2005.9 1682.5,1999.7 1684.1,1992.5C1685.8,1985.3 1688.1,1976.9 1690.0,1969.0C1692.0,1961.2 1693.6,1953.0 1695.9,1945.5C1698.2,1938.0 1701.1,1930.8 1703.7,1924.0C1706.3,1917.1 1708.9,1910.6 1711.6,1904.4C1714.2,1898.2 1716.5,1892.0 1719.4,1886.8C1722.3,1881.5 1726.2,1877.6 1729.2,1873.1C1732.1,1868.5 1734.4,1863.9 1737.0,1859.3C1739.6,1854.8 1741.9,1850.2 1744.8,1845.6C1747.8,1841.1 1751.4,1836.5 1754.6,1831.9C1757.9,1827.4 1761.2,1822.8 1764.4,1818.2C1767.7,1813.7 1771.0,1808.8 1774.2,1804.5C1777.5,1800.3 1780.8,1796.4 1784.0,1792.8C1787.3,1789.2 1790.5,1786.2 1793.8,1783.0C1797.1,1779.7 1799.7,1776.4 1803.6,1773.2C1807.5,1769.9 1812.7,1766.3 1817.3,1763.4C1821.9,1760.4 1826.8,1757.8 1831.0,1755.6C1835.3,1753.3 1838.9,1751.1 1842.8,1749.7C1846.7,1748.2 1850.9,1746.7 1854.5,1746.7C1858.1,1746.7 1861.1,1747.9 1864.3,1749.7C1867.6,1751.5 1870.5,1755.2 1874.1,1757.5C1877.7,1759.8 1881.9,1761.1 1885.8,1763.4C1889.6,1765.7 1894.6,1768.3 1897.5,1771.2C1900.4,1774.2 1902.1,1777.4 1903.4,1781.0C1904.7,1784.6 1904.4,1789.2 1905.3,1792.8C1906.3,1796.4 1908.3,1798.6 1909.3,1802.6C1910.2,1806.5 1910.2,1810.8 1911.2,1816.3C1912.2,1821.8 1913.8,1829.3 1915.1,1835.8C1916.4,1842.4 1917.7,1849.6 1919.0,1855.4C1920.4,1861.3 1922.0,1864.7 1923.0,1871.1C1923.9,1877.6 1924.3,1887.4 1924.9,1894.6C1925.6,1901.8 1926.1,1906.4 1926.9,1914.2C1927.7,1922.3 1929.0,1933.8 1929.8,1943.6C1930.6,1953.4 1931.2,1961.2 1931.8,1972.9C1932.4,1987.3 1933.4,2020.3 1933.7,2029.7"/>
<path stroke="#8bd646" d="M1793.8,2029.7C1794.5,2027.8 1795.8,2021.9 1797.7,2018.0C1799.7,2014.1 1802.9,2009.8 1805.6,2006.2C1808.2,2002.6 1810.8,1999.1 1813.4,1996.4C1816.0,1993.8 1818.3,1992.2 1821.2,1990.6C1824.2,1988.9 1828.2,1988.0 1831.0,1986.7C1833.8,1985.3 1835.6,1982.7 1837.9,1982.7C1840.2,1982.7 1842.6,1984.7 1844.7,1986.7C1846.9,1988.6 1848.6,1991.9 1850.6,1994.5C1852.6,1997.1 1855.0,1999.4 1856.5,2002.3C1858.0,2005.3 1858.7,2008.1 1859.4,2012.1C1860.2,2016.7 1861.1,2026.8 1861.4,2029.7"/>
<path stroke="#42be71" d="M1966.0,1643.9C1966.3,1645.2 1966.9,1648.6 1967.6,1651.8C1968.6,1656.0 1970.6,1663.2 1971.9,1669.4C1973.3,1675.6 1974.5,1682.4 1975.8,1689.0C1977.1,1695.5 1978.6,1702.0 1979.8,1708.5C1980.9,1715.1 1981.7,1722.3 1982.7,1728.1C1983.7,1734.0 1985.0,1738.9 1985.6,1743.8C1986.3,1748.7 1986.8,1753.6 1986.6,1757.5C1986.4,1761.4 1984.7,1763.4 1984.7,1767.3C1984.7,1771.2 1985.8,1776.8 1986.6,1781.0C1987.4,1785.3 1987.8,1789.8 1989.6,1792.8C1991.3,1795.7 1994.4,1796.4 1997.4,1798.6C2000.3,1800.9 2005.2,1803.5 2007.2,1806.5C2009.1,1809.4 2008.8,1813.0 2009.1,1816.3C2009.5,1819.5 2008.9,1822.1 2009.1,1826.1C2009.5,1831.0 2010.5,1837.8 2011.1,1845.6C2011.7,1853.8 2012.4,1863.6 2013.1,1875.0C2013.7,1886.4 2014.4,1901.1 2015.0,1914.2C2015.7,1927.2 2016.5,1937.7 2017.0,1953.4C2017.6,1972.6 2018.3,2017.0 2018.5,2029.7"/>
<path stroke="#2fb47c" d="M2012.1,1643.9C2012.3,1645.2 2013.0,1648.6 2013.4,1651.8C2014.3,1657.6 2015.7,1670.7 2017.0,1679.2C2018.2,1687.7 2019.6,1694.5 2020.9,1702.7C2022.2,1710.8 2023.7,1719.0 2024.8,1728.1C2025.9,1737.3 2027.1,1749.0 2027.7,1757.5C2028.4,1766.0 2028.9,1773.8 2028.7,1779.1C2028.6,1783.0 2026.4,1785.3 2026.8,1788.8C2027.1,1792.4 2028.7,1797.3 2030.7,1800.6C2032.6,1803.9 2036.9,1806.1 2038.5,1808.4C2040.0,1810.4 2038.9,1812.4 2040.5,1814.3C2042.4,1816.6 2048.8,1819.2 2050.3,1822.1C2051.7,1825.1 2049.4,1828.0 2049.3,1831.9C2049.1,1835.8 2049.0,1840.2 2049.3,1845.6C2049.6,1852.8 2050.6,1863.6 2051.2,1875.0C2051.9,1886.4 2052.5,1901.1 2053.2,1914.2C2053.9,1927.2 2054.6,1937.7 2055.2,1953.4C2055.8,1972.6 2056.8,2017.0 2057.1,2029.7"/>
<path stroke="#24aa83" d="M2051.2,1643.9C2051.5,1645.2 2051.9,1648.7 2052.6,1651.8C2053.6,1656.0 2055.9,1663.2 2057.1,1669.4C2058.4,1675.6 2059.3,1681.1 2060.1,1689.0C2060.9,1697.1 2061.2,1708.5 2062.0,1718.3C2062.8,1728.1 2064.1,1737.9 2065.0,1747.7C2065.8,1757.5 2066.5,1767.6 2066.9,1777.1C2067.3,1786.6 2066.7,1798.6 2067.5,1804.5C2068.0,1808.1 2069.5,1809.7 2071.8,1812.3C2074.2,1815.0 2078.7,1817.2 2081.6,1820.2C2084.5,1823.1 2088.0,1825.7 2089.4,1830.0C2090.9,1834.2 2090.4,1841.4 2090.4,1845.6C2090.4,1849.6 2089.4,1851.5 2089.4,1855.4C2089.4,1862.0 2089.9,1873.4 2090.4,1884.8C2090.9,1896.2 2091.9,1910.9 2092.4,1924.0C2092.9,1937.0 2093.1,1947.5 2093.3,1963.1C2093.7,1980.8 2094.2,2018.6 2094.3,2029.7"/>
<path stroke="#1fa088" d="M2090.4,1643.9C2090.7,1645.2 2091.7,1648.6 2092.4,1651.8C2093.5,1657.0 2096.0,1667.4 2097.3,1675.3C2098.6,1683.1 2099.4,1689.9 2100.2,1698.8C2101.0,1707.6 2101.5,1718.3 2102.2,1728.1C2102.8,1737.9 2103.6,1747.7 2104.1,1757.5C2104.6,1767.3 2105.1,1779.7 2105.1,1786.9C2105.1,1792.4 2104.3,1796.4 2104.1,1800.6C2104.0,1804.8 2103.0,1808.8 2104.1,1812.3C2105.3,1815.9 2108.2,1819.2 2111.0,1822.1C2113.8,1825.1 2117.8,1827.4 2120.8,1830.0C2123.7,1832.6 2127.5,1834.9 2128.6,1837.8C2129.7,1840.7 2127.9,1844.7 2127.6,1847.6C2127.3,1850.5 2126.6,1852.3 2126.6,1855.4C2126.6,1861.6 2127.3,1873.4 2127.6,1884.8C2127.9,1896.2 2128.3,1910.9 2128.6,1924.0C2128.9,1937.0 2129.3,1947.5 2129.6,1963.1C2129.9,1980.8 2130.4,2018.6 2130.6,2029.7"/>
<path stroke="#1f958b" d="M2128.6,1643.9C2128.8,1645.2 2129.2,1648.6 2129.6,1651.8C2130.1,1656.0 2130.4,1662.4 2131.5,1669.4C2132.7,1676.6 2135.3,1686.7 2136.4,1694.8C2137.6,1703.0 2137.7,1709.5 2138.4,1718.3C2139.0,1727.2 2139.9,1737.9 2140.4,1747.7C2140.8,1757.5 2141.0,1768.0 2141.3,1777.1C2141.7,1786.2 2142.5,1796.7 2142.3,1802.6C2142.2,1806.5 2140.5,1809.4 2140.4,1812.3C2140.2,1815.3 2140.0,1817.9 2141.3,1820.2C2142.6,1822.5 2145.7,1824.1 2148.2,1826.1C2150.6,1828.0 2153.7,1829.3 2156.0,1831.9C2158.3,1834.5 2160.6,1837.8 2161.9,1841.7C2163.2,1845.6 2163.5,1849.9 2163.9,1855.4C2164.3,1862.6 2164.5,1873.4 2164.8,1884.8C2165.2,1896.2 2165.5,1909.3 2165.8,1924.0C2166.1,1938.7 2166.6,1955.3 2166.8,1972.9C2167.0,1990.6 2167.1,2020.3 2167.2,2029.7"/>
<path stroke="#228b8d" d="M2166.4,1643.9C2166.5,1645.2 2166.7,1648.6 2166.8,1651.8C2166.9,1657.0 2166.4,1667.4 2167.2,1675.3C2168.0,1683.1 2170.4,1689.9 2171.7,1698.8C2172.9,1707.6 2173.8,1718.3 2174.6,1728.1C2175.4,1737.9 2176.1,1747.7 2176.6,1757.5C2177.1,1767.3 2177.6,1777.7 2177.6,1786.9C2177.6,1796.0 2176.9,1806.8 2176.6,1812.3C2176.4,1815.5 2175.0,1817.9 2175.6,1820.2C2176.3,1822.5 2179.2,1823.8 2180.5,1826.1C2181.8,1828.3 2181.6,1831.3 2183.4,1833.9C2185.2,1836.5 2188.7,1839.4 2191.3,1841.7C2193.9,1844.0 2197.8,1845.0 2199.1,1847.6C2200.4,1850.2 2199.0,1853.5 2199.1,1857.4C2199.3,1862.0 2199.9,1868.0 2200.1,1875.0C2200.3,1887.7 2200.6,1910.3 2200.7,1933.8C2200.8,1959.6 2200.7,2013.7 2200.7,2029.7"/>
<path stroke="#26818e" d="M2200.7,1643.9 L2200.7,1689.0"/>
<path d="M1819.6,2005.8L1849.6,2035.8M1819.6,2035.8L1849.6,2005.8" stroke="#ff0000" stroke-width="4.3" fill="none"/>
</g>
<g clip-path="url(#cp40)" fill="none" stroke-width="7.5" stroke-linejoin="round" stroke-linecap="butt">
<path stroke="#472e7c" d="M231.6,2125.9C231.6,2126.9 231.6,2129.4 231.6,2131.8C231.7,2140.9 232.1,2161.2 232.2,2180.8C232.4,2202.0 232.7,2233.0 232.6,2259.1C232.5,2285.2 232.0,2311.3 231.6,2337.4C231.3,2363.5 230.7,2386.7 230.3,2415.8C229.9,2444.8 229.3,2495.7 229.1,2511.7"/>
<path stroke="#443b84" d="M296.3,2511.7C297.1,2505.5 299.4,2485.3 301.2,2474.5C303.0,2463.8 305.4,2455.3 307.0,2447.1C308.7,2438.9 309.7,2430.5 311.0,2425.6C311.9,2422.2 313.1,2420.3 314.9,2417.7C316.7,2415.1 320.1,2412.8 321.7,2409.9C323.4,2407.0 323.7,2404.1 324.7,2400.1C325.8,2395.2 327.3,2386.1 328.6,2380.5C329.9,2375.0 331.2,2371.4 332.5,2366.8C333.8,2362.2 334.5,2357.0 336.4,2353.1C338.4,2349.2 342.3,2347.6 344.3,2343.3C346.2,2339.1 346.9,2333.5 348.2,2327.6C349.5,2321.8 350.8,2312.6 352.1,2308.1C353.1,2304.7 354.5,2302.8 356.0,2300.2C357.5,2297.6 359.7,2295.9 360.9,2292.4C362.2,2288.5 362.7,2282.9 363.8,2276.7C365.0,2270.5 366.5,2261.4 367.8,2255.2C369.1,2249.0 370.1,2245.8 371.7,2239.5C373.3,2233.0 375.9,2224.2 377.6,2216.0C379.2,2207.8 380.0,2199.0 381.5,2190.5C382.9,2182.1 384.7,2173.2 386.4,2165.1C388.0,2156.9 390.2,2148.1 391.3,2141.6C392.3,2135.4 392.6,2128.5 392.8,2125.9"/>
<path stroke="#3f4889" d="M335.4,2511.7C336.6,2507.2 340.2,2492.2 342.3,2484.3C344.4,2476.5 345.9,2471.6 348.2,2464.7C350.5,2457.9 354.1,2449.4 356.0,2443.2C358.0,2437.0 358.6,2431.8 359.9,2427.5C361.2,2423.5 362.0,2421.5 363.8,2417.7C365.8,2413.8 369.4,2407.3 371.7,2404.0C373.6,2401.3 375.6,2400.1 377.6,2398.1C379.5,2396.2 381.8,2395.2 383.4,2392.3C385.1,2389.3 385.7,2385.1 387.3,2380.5C389.0,2375.9 391.3,2368.8 393.2,2364.9C395.0,2361.3 397.1,2359.6 399.1,2357.0C401.1,2354.4 403.0,2352.1 405.0,2349.2C406.9,2346.2 408.6,2342.7 410.8,2339.4C413.1,2336.1 416.7,2332.5 418.7,2329.6C420.6,2326.7 421.0,2324.9 422.6,2321.8C424.2,2318.5 426.5,2313.9 428.5,2310.0C430.4,2306.1 432.4,2302.5 434.3,2298.3C436.3,2294.0 438.6,2288.5 440.2,2284.6C441.8,2280.7 442.5,2277.7 444.1,2274.8C445.8,2271.8 447.7,2269.5 450.0,2266.9C452.3,2264.3 455.9,2262.0 457.9,2259.1C459.8,2256.2 460.5,2252.9 461.8,2249.3C463.1,2245.7 464.4,2241.5 465.7,2237.6C467.0,2233.6 467.8,2230.4 469.6,2225.8C471.6,2220.9 474.5,2214.0 477.4,2208.2C480.4,2202.3 484.6,2195.1 487.2,2190.5C489.5,2186.6 491.4,2185.0 493.1,2180.8C495.1,2175.9 497.0,2167.7 499.0,2161.2C500.9,2154.6 503.2,2147.5 504.9,2141.6C506.5,2135.7 508.1,2128.5 508.8,2125.9"/>
<path stroke="#3a548c" d="M359.9,2511.7C360.9,2507.2 363.8,2492.2 365.8,2484.3C367.8,2476.5 369.7,2470.3 371.7,2464.7C373.6,2459.2 375.6,2455.9 377.6,2451.0C379.5,2446.1 381.5,2440.3 383.4,2435.4C385.4,2430.5 387.3,2425.9 389.3,2421.6C391.3,2417.4 392.9,2412.8 395.2,2409.9C397.5,2407.0 400.4,2405.7 403.0,2404.0C405.6,2402.4 408.2,2402.1 410.8,2400.1C413.5,2398.1 416.1,2395.9 418.7,2392.3C421.3,2388.7 423.9,2382.5 426.5,2378.6C429.1,2374.6 431.7,2372.0 434.3,2368.8C437.0,2365.5 439.6,2362.6 442.2,2359.0C444.8,2355.4 447.4,2350.5 450.0,2347.2C452.6,2344.0 454.9,2341.7 457.9,2339.4C460.8,2337.1 464.7,2336.1 467.6,2333.5C470.6,2330.9 472.9,2326.7 475.5,2323.7C478.1,2320.8 480.4,2319.2 483.3,2315.9C486.2,2312.6 490.2,2307.7 493.1,2304.1C496.0,2300.5 498.3,2297.6 500.9,2294.3C503.5,2291.1 506.2,2287.8 508.8,2284.6C511.4,2281.3 513.7,2278.0 516.6,2274.8C519.5,2271.5 522.7,2269.1 526.4,2265.0C530.1,2260.7 534.8,2254.2 539.1,2249.3C543.3,2244.4 547.7,2240.2 551.8,2235.6C555.8,2231.0 558.9,2227.1 563.5,2221.9C568.1,2216.7 573.9,2209.8 579.2,2204.3C584.4,2198.7 589.6,2194.1 594.8,2188.6C600.1,2183.0 605.9,2175.9 610.5,2171.0C615.0,2166.1 617.7,2162.8 622.3,2159.2C626.8,2155.6 632.7,2152.4 637.9,2149.4C643.1,2146.5 648.7,2143.7 653.6,2141.6C658.5,2139.5 662.7,2139.3 667.3,2136.7C671.9,2134.1 678.7,2127.7 681.0,2125.9"/>
<path stroke="#3a548c" d="M730.0,2125.9C732.6,2128.2 740.4,2136.0 745.6,2139.6C750.9,2143.2 755.4,2144.8 761.3,2147.5C767.2,2150.1 775.3,2152.0 780.9,2155.3C786.4,2158.6 789.7,2162.1 794.6,2167.0C799.5,2171.9 805.4,2179.1 810.3,2184.7C815.2,2190.2 819.1,2195.1 824.0,2200.3C828.9,2205.6 834.8,2211.1 839.6,2216.0C844.5,2220.9 847.9,2224.2 853.4,2229.7C858.9,2235.3 869.7,2246.0 872.9,2249.3"/>
<path stroke="#34608d" d="M382.5,2511.7C383.3,2507.8 385.6,2495.1 387.3,2488.2C389.1,2481.4 391.3,2476.5 393.2,2470.6C395.2,2464.7 397.1,2458.2 399.1,2453.0C401.1,2447.8 403.0,2443.5 405.0,2439.3C406.9,2435.0 408.6,2431.1 410.8,2427.5C413.1,2423.9 416.4,2420.0 418.7,2417.7C420.7,2415.7 422.6,2415.1 424.6,2413.8C426.5,2412.5 428.0,2411.4 430.4,2409.9C433.0,2408.3 437.0,2405.7 440.2,2404.0C443.5,2402.4 447.1,2401.7 450.0,2400.1C453.0,2398.5 455.6,2396.8 457.9,2394.2C460.1,2391.6 461.4,2387.4 463.7,2384.4C466.0,2381.5 469.3,2379.2 471.6,2376.6C473.8,2374.0 474.8,2371.4 477.4,2368.8C480.0,2366.2 484.0,2363.9 487.2,2360.9C490.5,2358.0 494.1,2354.1 497.0,2351.1C500.0,2348.2 502.6,2345.9 504.9,2343.3C507.1,2340.7 508.1,2337.8 510.7,2335.5C513.3,2333.2 517.6,2331.2 520.5,2329.6C523.5,2328.0 525.6,2327.8 528.4,2325.7C531.3,2323.4 534.2,2318.8 538.1,2315.9C542.0,2313.0 547.2,2310.0 551.8,2308.1C556.3,2306.1 560.9,2306.1 565.5,2304.1C570.0,2302.2 575.3,2298.3 579.2,2296.3C582.9,2294.4 585.0,2293.9 589.0,2292.4C593.2,2290.8 599.1,2288.8 604.6,2286.5C610.2,2284.2 616.7,2281.0 622.3,2278.7C627.8,2276.4 632.0,2274.8 637.9,2272.8C643.8,2270.8 651.0,2268.9 657.5,2266.9C664.0,2265.0 670.6,2262.8 677.1,2261.1C683.6,2259.3 690.2,2257.3 696.7,2256.2C703.2,2255.0 709.7,2254.4 716.3,2254.2C722.8,2254.0 729.3,2254.4 735.8,2255.2C742.4,2256.0 748.9,2257.1 755.4,2259.1C762.0,2261.1 768.5,2263.7 775.0,2266.9C781.5,2270.2 788.1,2274.4 794.6,2278.7C801.1,2282.9 808.3,2288.1 814.2,2292.4C820.1,2296.6 825.0,2300.9 829.9,2304.1C834.8,2307.4 839.6,2309.7 843.6,2312.0C847.5,2314.3 850.4,2315.6 853.4,2317.8C856.3,2320.1 858.1,2322.5 861.2,2325.7C864.5,2328.9 871.0,2335.5 872.9,2337.4"/>
<path stroke="#2f6c8e" d="M410.8,2511.7C412.2,2508.1 416.1,2496.4 418.7,2490.2C421.3,2484.0 423.9,2479.4 426.5,2474.5C429.1,2469.6 431.4,2465.4 434.3,2460.8C437.3,2456.2 441.2,2451.0 444.1,2447.1C447.1,2443.2 449.4,2440.6 452.0,2437.3C454.6,2434.1 457.2,2430.8 459.8,2427.5C462.4,2424.3 465.0,2421.0 467.6,2417.7C470.3,2414.5 472.9,2411.5 475.5,2407.9C478.1,2404.3 480.4,2398.8 483.3,2396.2C486.2,2393.6 489.5,2393.6 493.1,2392.3C496.7,2391.0 500.9,2390.0 504.9,2388.4C508.8,2386.7 513.3,2384.4 516.6,2382.5C519.9,2380.5 521.3,2379.0 524.4,2376.6C527.9,2374.0 531.9,2370.4 537.1,2366.8C542.3,2363.2 549.6,2358.6 555.7,2355.1C561.7,2351.5 566.8,2348.5 573.3,2345.3C579.8,2342.0 587.3,2338.7 594.8,2335.5C602.3,2332.2 610.5,2328.6 618.3,2325.7C626.2,2322.7 634.7,2319.8 641.8,2317.8C649.0,2315.9 654.9,2314.7 661.4,2313.9C668.0,2313.1 673.5,2312.8 681.0,2313.0C688.5,2313.1 699.0,2313.9 706.5,2314.9C714.0,2315.9 719.5,2317.0 726.1,2318.8C732.6,2320.6 739.1,2323.6 745.6,2325.7C752.2,2327.8 758.7,2329.8 765.2,2331.6C771.8,2333.4 778.3,2334.8 784.8,2336.5C791.3,2338.1 799.5,2339.6 804.4,2341.3C808.7,2342.9 811.6,2344.6 814.2,2347.2C816.8,2349.8 818.1,2354.1 820.1,2357.0C822.0,2360.0 823.7,2361.6 825.9,2364.9C828.2,2368.1 831.2,2372.4 833.8,2376.6C836.4,2380.8 839.3,2385.7 841.6,2390.3C843.9,2394.9 845.5,2399.1 847.5,2404.0C849.4,2408.9 851.7,2414.5 853.4,2419.7C855.0,2424.9 856.0,2430.1 857.3,2435.4C858.6,2440.6 859.9,2445.8 861.2,2451.0C862.5,2456.2 864.1,2461.1 865.1,2466.7C866.1,2472.2 866.7,2477.2 867.1,2484.3C867.5,2491.8 867.4,2507.2 867.5,2511.7"/>
<path stroke="#2a768e" d="M436.3,2511.7C437.6,2508.1 441.5,2495.7 444.1,2490.2C446.5,2485.1 449.0,2482.7 452.0,2478.4C454.9,2474.2 458.8,2468.7 461.8,2464.7C464.7,2460.8 467.0,2458.2 469.6,2454.9C472.2,2451.7 474.8,2448.1 477.4,2445.1C480.0,2442.2 482.7,2439.9 485.3,2437.3C487.9,2434.7 490.2,2432.1 493.1,2429.5C496.0,2426.9 500.0,2424.6 502.9,2421.6C505.8,2418.7 508.8,2414.8 510.7,2411.9C512.7,2408.9 512.4,2406.0 514.6,2404.0C516.9,2402.1 520.6,2401.8 524.4,2400.1C528.3,2398.4 533.5,2395.7 538.1,2393.7C542.6,2391.8 547.2,2390.7 551.8,2388.4C556.3,2386.0 560.9,2381.7 565.5,2379.5C570.0,2377.4 573.7,2377.1 579.2,2375.6C584.7,2374.2 592.2,2372.2 598.8,2370.7C605.3,2369.3 611.8,2368.0 618.3,2366.8C624.9,2365.7 631.4,2364.8 637.9,2363.9C644.5,2363.0 651.0,2362.0 657.5,2361.3C664.0,2360.6 670.6,2360.0 677.1,2359.6C683.6,2359.2 690.2,2359.2 696.7,2359.0C703.2,2358.7 710.4,2357.9 716.3,2358.0C722.1,2358.1 726.7,2358.2 731.9,2359.4C737.2,2360.5 743.0,2362.3 747.6,2364.9C752.2,2367.4 754.8,2371.4 759.3,2374.6C763.9,2377.9 770.4,2380.8 775.0,2384.4C779.6,2388.0 783.5,2392.3 786.8,2396.2C790.0,2400.1 791.7,2403.7 794.6,2407.9C797.5,2412.2 801.8,2417.1 804.4,2421.6C807.0,2426.2 808.3,2430.5 810.3,2435.4C812.2,2440.3 814.5,2446.1 816.1,2451.0C817.8,2455.9 818.8,2459.8 820.1,2464.7C821.4,2469.6 822.8,2475.8 824.0,2480.4C825.1,2485.0 826.1,2487.4 826.9,2492.2C827.8,2497.4 829.0,2508.5 829.5,2511.7"/>
<path stroke="#26818e" d="M462.7,2511.7C464.2,2508.1 468.5,2495.7 471.6,2490.2C474.5,2484.9 478.1,2482.4 481.4,2478.4C484.6,2474.5 487.9,2470.3 491.1,2466.7C494.4,2463.1 497.3,2460.2 500.9,2456.9C504.5,2453.6 508.8,2450.4 512.7,2447.1C516.6,2443.8 520.2,2440.7 524.4,2437.3C528.7,2433.9 532.9,2430.5 538.1,2426.5C543.3,2422.6 549.5,2417.6 555.7,2413.8C561.9,2410.1 568.1,2407.0 575.3,2404.0C582.4,2401.1 590.9,2398.3 598.8,2396.2C606.6,2394.1 614.4,2392.4 622.3,2391.3C630.1,2390.1 638.6,2389.5 645.8,2389.3C652.9,2389.2 658.5,2389.5 665.3,2390.3C672.2,2391.1 680.0,2392.6 686.9,2394.2C693.7,2395.9 699.9,2397.5 706.5,2400.1C713.0,2402.7 719.5,2406.0 726.1,2409.9C732.6,2413.8 740.1,2419.0 745.6,2423.6C751.2,2428.2 755.4,2432.7 759.3,2437.3C763.3,2441.9 766.5,2446.5 769.1,2451.0C771.8,2455.6 773.1,2460.8 775.0,2464.7C777.0,2468.7 779.3,2471.3 780.9,2474.5C782.5,2477.8 784.1,2480.2 784.8,2484.3C785.9,2490.5 786.8,2507.2 787.2,2511.7"/>
<path stroke="#228b8d" d="M493.1,2511.7C494.7,2508.5 499.6,2496.7 502.9,2492.2C505.8,2488.1 509.1,2487.3 512.7,2484.3C516.3,2481.4 520.2,2477.8 524.4,2474.5C528.7,2471.3 532.9,2468.3 538.1,2464.7C543.3,2461.1 549.5,2456.6 555.7,2453.0C561.9,2449.4 568.1,2446.1 575.3,2443.2C582.4,2440.3 590.9,2437.3 598.8,2435.4C606.6,2433.4 615.1,2432.3 622.3,2431.4C629.4,2430.6 635.3,2430.1 641.8,2430.5C648.4,2430.8 654.9,2431.6 661.4,2433.4C668.0,2435.2 674.5,2438.3 681.0,2441.2C687.5,2444.2 694.7,2447.4 700.6,2451.0C706.5,2454.6 711.7,2459.5 716.3,2462.8C720.8,2466.0 725.1,2468.3 728.0,2470.6C730.6,2472.7 732.6,2473.5 733.9,2476.5C735.2,2479.4 734.9,2483.6 735.8,2488.2C737.0,2494.1 739.9,2507.8 740.7,2511.7"/>
<path stroke="#1f958b" d="M534.2,2511.7C535.0,2510.1 535.8,2504.9 539.1,2501.9C542.6,2498.7 549.6,2495.4 555.7,2492.2C561.7,2488.9 568.7,2485.0 575.3,2482.4C581.8,2479.7 587.7,2478.1 594.8,2476.5C602.0,2474.9 611.2,2472.9 618.3,2472.6C625.5,2472.2 631.4,2473.2 637.9,2474.5C644.5,2475.8 651.6,2478.1 657.5,2480.4C663.4,2482.7 668.6,2485.3 673.2,2488.2C677.7,2491.2 681.3,2494.1 684.9,2498.0C688.5,2501.9 693.1,2509.5 694.7,2511.7"/>
<path d="M594.5,2488.3L624.5,2518.3M594.5,2518.3L624.5,2488.3" stroke="#ff0000" stroke-width="4.3" fill="none"/>
</g>
<g clip-path="url(#cp41)" fill="none" stroke-width="7.5" stroke-linejoin="round" stroke-linecap="butt">
<path stroke="#472e7c" d="M910.4,2125.9C910.4,2127.2 910.3,2130.6 910.4,2133.8C910.5,2138.0 910.8,2144.3 911.0,2151.4C911.1,2159.2 912.1,2173.2 911.4,2180.8C910.7,2187.3 907.8,2192.5 906.5,2196.4C905.4,2199.6 904.2,2201.0 903.5,2204.3C902.7,2208.2 902.4,2214.7 901.6,2219.9C900.8,2225.1 899.1,2229.2 898.6,2235.6C898.2,2242.1 898.6,2249.7 898.6,2259.1C898.6,2272.8 898.7,2298.3 898.6,2317.8C898.5,2337.4 898.2,2357.0 898.1,2376.6C897.9,2396.2 897.7,2412.8 897.7,2435.4C897.6,2457.9 897.7,2499.0 897.7,2511.7"/>
<path stroke="#443b84" d="M1018.1,2125.9C1018.1,2127.2 1018.3,2130.6 1018.1,2133.8C1018.0,2137.0 1017.3,2140.8 1017.1,2145.5C1017.0,2151.1 1017.8,2160.2 1017.1,2167.0C1016.5,2173.9 1014.5,2179.4 1013.2,2186.6C1011.9,2193.8 1010.4,2203.0 1009.3,2210.1C1008.2,2217.3 1007.3,2223.2 1006.4,2229.7C1005.4,2236.2 1004.4,2242.8 1003.4,2249.3C1002.4,2255.8 1001.5,2262.4 1000.5,2268.9C999.5,2275.4 998.4,2281.9 997.6,2288.5C996.7,2295.0 996.6,2302.2 995.6,2308.1C994.6,2313.9 992.8,2317.8 991.7,2323.7C990.5,2329.6 989.7,2336.8 988.7,2343.3C987.8,2349.8 986.9,2357.3 985.8,2362.9C984.7,2368.4 982.9,2371.1 981.9,2376.6C980.9,2382.2 980.6,2389.7 979.9,2396.2C979.3,2402.7 978.8,2409.9 978.0,2415.8C977.1,2421.6 975.8,2426.5 975.0,2431.4C974.2,2436.3 973.9,2439.7 973.1,2445.1C972.3,2450.7 971.0,2458.2 970.1,2464.7C969.3,2471.3 968.4,2476.5 967.8,2484.3C967.1,2492.2 966.5,2507.2 966.2,2511.7"/>
<path stroke="#3f4889" d="M1092.5,2125.9C1092.5,2128.5 1093.4,2137.0 1092.5,2141.6C1091.7,2146.2 1089.4,2149.1 1087.6,2153.3C1085.8,2157.6 1083.4,2162.5 1081.8,2167.0C1080.1,2171.6 1079.0,2175.9 1077.8,2180.8C1076.7,2185.7 1076.2,2191.5 1074.9,2196.4C1073.6,2201.3 1071.5,2205.2 1070.0,2210.1C1068.5,2215.0 1067.4,2220.9 1066.1,2225.8C1064.8,2230.7 1063.8,2234.0 1062.2,2239.5C1060.5,2245.1 1057.9,2253.2 1056.3,2259.1C1054.7,2265.0 1053.7,2269.5 1052.4,2274.8C1051.1,2280.0 1050.1,2285.2 1048.5,2290.4C1046.8,2295.7 1044.2,2301.5 1042.6,2306.1C1041.0,2310.7 1039.9,2313.0 1038.7,2317.8C1037.4,2323.1 1036.1,2331.6 1034.8,2337.4C1033.5,2343.3 1032.5,2348.2 1030.8,2353.1C1029.2,2358.0 1026.3,2362.6 1025.0,2366.8C1023.7,2371.1 1023.9,2373.9 1023.0,2378.6C1022.0,2383.5 1020.1,2391.3 1019.1,2396.2C1018.2,2400.9 1018.3,2403.7 1017.1,2407.9C1016.0,2412.2 1013.5,2417.1 1012.2,2421.6C1010.9,2426.2 1010.3,2429.8 1009.3,2435.4C1008.3,2440.9 1007.7,2448.7 1006.4,2454.9C1005.1,2461.1 1002.8,2466.7 1001.5,2472.6C1000.2,2478.4 999.2,2483.7 998.5,2490.2C997.9,2496.7 997.7,2508.1 997.6,2511.7"/>
<path stroke="#3a548c" d="M1169.9,2125.9C1169.9,2128.5 1170.9,2137.7 1169.9,2141.6C1168.9,2145.4 1166.0,2146.8 1164.0,2149.4C1162.1,2152.0 1159.8,2154.3 1158.1,2157.3C1156.5,2160.2 1155.5,2163.5 1154.2,2167.0C1152.9,2170.6 1151.9,2174.6 1150.3,2178.8C1148.7,2183.0 1146.4,2187.9 1144.4,2192.5C1142.5,2197.1 1140.5,2202.0 1138.6,2206.2C1136.6,2210.5 1135.0,2213.7 1132.7,2218.0C1130.4,2222.2 1127.1,2227.4 1124.9,2231.7C1122.6,2235.9 1120.9,2238.9 1119.0,2243.4C1117.0,2248.0 1115.1,2254.5 1113.1,2259.1C1111.1,2263.7 1109.2,2266.6 1107.2,2270.8C1105.3,2275.1 1103.3,2280.3 1101.3,2284.6C1099.4,2288.8 1097.4,2292.7 1095.5,2296.3C1093.5,2299.9 1091.2,2302.8 1089.6,2306.1C1088.0,2309.4 1087.3,2312.0 1085.7,2315.9C1084.0,2319.8 1081.8,2325.0 1079.8,2329.6C1077.8,2334.2 1075.9,2338.7 1073.9,2343.3C1072.0,2347.9 1070.3,2352.4 1068.1,2357.0C1065.8,2361.6 1062.2,2366.2 1060.2,2370.7C1058.3,2375.3 1057.9,2379.5 1056.3,2384.4C1054.7,2389.3 1052.1,2395.5 1050.4,2400.1C1048.8,2404.7 1048.1,2407.9 1046.5,2411.9C1044.9,2415.8 1041.9,2419.7 1040.6,2423.6C1039.3,2427.5 1039.7,2430.8 1038.7,2435.4C1037.7,2439.9 1036.1,2445.8 1034.8,2451.0C1033.5,2456.2 1032.2,2462.4 1030.8,2466.7C1029.6,2470.7 1028.1,2472.6 1026.9,2476.5C1025.8,2480.4 1024.6,2484.6 1024.0,2490.2C1023.3,2496.1 1023.2,2508.1 1023.0,2511.7"/>
<path stroke="#3a548c" d="M1528.2,2157.3C1528.7,2158.9 1529.8,2163.6 1531.1,2167.0C1532.4,2170.5 1535.2,2176.0 1536.0,2177.8"/>
<path stroke="#34608d" d="M1538.0,2321.8C1536.4,2319.5 1530.1,2311.6 1528.2,2308.1C1526.6,2305.2 1527.5,2302.5 1526.2,2300.2C1524.9,2297.9 1522.3,2296.6 1520.4,2294.3C1518.4,2292.1 1516.6,2289.8 1514.5,2286.5C1512.2,2282.9 1509.3,2277.4 1506.6,2272.8C1504.0,2268.2 1501.8,2263.3 1498.8,2259.1C1495.9,2254.9 1492.6,2251.6 1489.0,2247.3C1485.4,2243.1 1480.9,2238.2 1477.3,2233.6C1473.7,2229.1 1470.7,2224.5 1467.5,2219.9C1464.2,2215.4 1460.9,2210.5 1457.7,2206.2C1454.4,2202.0 1451.2,2198.1 1447.9,2194.5C1444.6,2190.9 1441.7,2187.6 1438.1,2184.7C1434.5,2181.7 1430.3,2179.8 1426.3,2176.8C1422.4,2173.9 1417.9,2170.0 1414.6,2167.0C1411.3,2164.1 1408.7,2162.1 1406.8,2159.2C1404.8,2156.3 1404.8,2152.4 1402.8,2149.4C1400.9,2146.5 1398.9,2143.5 1395.0,2141.6C1391.1,2139.6 1385.2,2138.6 1379.3,2137.7C1373.5,2136.7 1366.3,2136.0 1359.8,2135.7C1353.2,2135.4 1346.7,2135.1 1340.2,2135.7C1333.6,2136.4 1326.5,2138.0 1320.6,2139.6C1314.7,2141.3 1310.1,2143.2 1304.9,2145.5C1299.7,2147.8 1294.2,2151.1 1289.3,2153.3C1284.4,2155.6 1280.1,2156.3 1275.5,2159.2C1271.0,2162.1 1266.7,2166.7 1261.8,2171.0C1256.9,2175.2 1251.4,2180.1 1246.2,2184.7C1240.9,2189.2 1235.1,2193.8 1230.5,2198.4C1225.9,2203.0 1223.3,2207.7 1218.8,2212.1C1214.2,2216.5 1208.0,2220.6 1203.1,2224.8C1198.3,2229.1 1193.4,2233.1 1189.5,2237.6C1185.6,2242.0 1182.6,2246.7 1179.7,2251.3C1176.8,2255.8 1174.8,2260.4 1171.9,2265.0C1168.9,2269.5 1165.3,2274.4 1162.1,2278.7C1158.8,2282.9 1155.2,2286.5 1152.3,2290.4C1149.3,2294.3 1147.0,2298.3 1144.4,2302.2C1141.8,2306.1 1139.2,2309.7 1136.6,2313.9C1134.0,2318.2 1131.1,2323.4 1128.8,2327.6C1126.5,2331.9 1125.5,2335.5 1122.9,2339.4C1120.3,2343.3 1115.7,2347.6 1113.1,2351.1C1110.5,2354.7 1109.2,2357.3 1107.2,2360.9C1105.3,2364.5 1103.3,2368.4 1101.3,2372.7C1099.4,2376.9 1097.4,2381.8 1095.5,2386.4C1093.5,2391.0 1091.6,2395.9 1089.6,2400.1C1087.6,2404.3 1085.7,2408.3 1083.7,2411.9C1081.8,2415.4 1079.8,2417.7 1077.8,2421.6C1075.9,2425.6 1073.6,2430.8 1072.0,2435.4C1070.3,2439.9 1069.7,2444.5 1068.1,2449.1C1066.4,2453.6 1064.1,2458.5 1062.2,2462.8C1060.2,2467.0 1057.8,2470.6 1056.3,2474.5C1054.8,2478.4 1053.9,2481.5 1053.4,2486.3C1052.6,2492.5 1052.2,2507.5 1052.0,2511.7"/>
<path stroke="#2f6c8e" d="M1534.1,2511.7C1534.0,2507.2 1534.0,2492.2 1533.7,2484.3C1533.3,2476.5 1533.0,2471.3 1532.1,2464.7C1531.2,2458.2 1529.5,2451.4 1528.2,2445.1C1526.9,2438.9 1525.6,2433.1 1524.3,2427.5C1523.0,2422.0 1521.7,2417.1 1520.4,2411.9C1519.1,2406.6 1518.1,2401.1 1516.4,2396.2C1514.8,2391.3 1512.5,2386.7 1510.6,2382.5C1508.6,2378.2 1506.6,2375.0 1504.7,2370.7C1502.7,2366.5 1501.1,2361.3 1498.8,2357.0C1496.5,2352.8 1493.3,2348.9 1491.0,2345.3C1488.7,2341.7 1486.7,2338.7 1485.1,2335.5C1483.5,2332.2 1483.1,2328.3 1481.2,2325.7C1479.2,2323.1 1476.6,2321.4 1473.4,2319.8C1470.1,2318.2 1466.5,2316.7 1461.6,2315.9C1456.4,2315.1 1448.5,2315.4 1442.0,2314.9C1435.5,2314.4 1429.6,2313.8 1422.4,2313.0C1415.3,2312.1 1404.8,2311.0 1398.9,2310.0C1394.2,2309.2 1389.1,2308.2 1387.2,2307.1C1385.8,2306.3 1385.8,2303.9 1387.2,2303.2C1389.1,2302.0 1394.7,2300.9 1398.9,2300.2C1403.2,2299.6 1407.7,2299.4 1412.6,2299.2C1417.5,2299.1 1424.4,2299.4 1428.3,2299.2C1431.5,2299.1 1434.2,2299.4 1436.1,2298.3C1438.1,2297.1 1439.7,2294.3 1440.1,2292.4C1440.4,2290.4 1439.4,2288.1 1438.1,2286.5C1436.8,2284.9 1434.8,2283.9 1432.2,2282.6C1429.6,2281.3 1426.0,2280.3 1422.4,2278.7C1418.8,2277.0 1414.3,2274.8 1410.7,2272.8C1407.1,2270.8 1404.5,2268.9 1400.9,2266.9C1397.3,2265.0 1393.7,2262.7 1389.1,2261.1C1384.6,2259.4 1379.3,2258.8 1373.5,2257.1C1367.6,2255.5 1360.4,2252.9 1353.9,2251.3C1347.4,2249.6 1340.8,2248.0 1334.3,2247.3C1327.8,2246.7 1321.2,2246.7 1314.7,2247.3C1308.2,2248.0 1301.3,2249.6 1295.1,2251.3C1288.9,2252.9 1283.1,2255.2 1277.5,2257.1C1272.0,2259.1 1267.1,2260.7 1261.8,2263.0C1256.6,2265.3 1250.7,2268.2 1246.2,2270.8C1241.6,2273.5 1239.0,2275.4 1234.4,2278.7C1229.8,2281.9 1223.8,2286.8 1218.8,2290.4C1213.7,2294.0 1208.7,2296.3 1204.1,2300.2C1199.6,2304.1 1195.5,2309.7 1191.4,2313.9C1187.4,2318.2 1183.0,2322.1 1179.7,2325.7C1176.4,2329.3 1175.1,2331.9 1171.9,2335.5C1168.6,2339.1 1163.7,2344.0 1160.1,2347.2C1156.5,2350.5 1152.9,2352.1 1150.3,2355.1C1147.7,2358.0 1146.7,2361.3 1144.4,2364.9C1142.2,2368.4 1139.2,2372.7 1136.6,2376.6C1134.0,2380.5 1131.1,2384.4 1128.8,2388.4C1126.5,2392.3 1125.2,2396.2 1122.9,2400.1C1120.6,2404.0 1117.7,2408.3 1115.1,2411.9C1112.4,2415.4 1109.5,2418.4 1107.2,2421.6C1104.9,2424.9 1103.3,2427.8 1101.3,2431.4C1099.4,2435.0 1097.4,2439.3 1095.5,2443.2C1093.5,2447.1 1091.6,2451.0 1089.6,2454.9C1087.6,2458.9 1085.4,2463.1 1083.7,2466.7C1082.1,2470.3 1080.9,2472.6 1079.8,2476.5C1078.7,2480.4 1077.5,2484.6 1076.9,2490.2C1076.2,2496.1 1076.1,2508.1 1075.9,2511.7"/>
<path stroke="#2a768e" d="M1497.6,2511.7C1497.3,2507.2 1496.7,2491.8 1495.9,2484.3C1495.1,2477.2 1494.4,2472.9 1492.9,2466.7C1491.5,2460.5 1489.0,2453.3 1487.1,2447.1C1485.1,2440.9 1483.1,2435.0 1481.2,2429.5C1479.2,2423.9 1477.3,2418.7 1475.3,2413.8C1473.4,2408.9 1471.7,2404.0 1469.4,2400.1C1467.2,2396.2 1464.5,2393.9 1461.6,2390.3C1458.7,2386.7 1455.1,2382.8 1451.8,2378.6C1448.5,2374.3 1445.6,2369.1 1442.0,2364.9C1438.4,2360.6 1434.2,2357.0 1430.3,2353.1C1426.3,2349.2 1422.4,2344.6 1418.5,2341.3C1414.6,2338.1 1411.8,2336.0 1406.8,2333.5C1401.5,2330.9 1393.7,2327.8 1387.2,2325.7C1380.7,2323.6 1374.1,2322.3 1367.6,2320.8C1361.1,2319.3 1353.9,2318.3 1348.0,2316.9C1342.1,2315.4 1336.9,2313.6 1332.3,2312.0C1327.8,2310.3 1323.9,2308.1 1320.6,2307.1C1317.6,2306.2 1315.0,2305.9 1312.8,2306.1C1310.5,2306.3 1308.8,2307.2 1306.9,2308.1C1304.9,2308.9 1303.5,2310.3 1301.0,2311.0C1296.8,2312.1 1287.3,2313.4 1281.4,2314.9C1275.5,2316.4 1270.3,2318.3 1265.8,2319.8C1261.2,2321.3 1258.2,2322.1 1254.0,2323.7C1249.8,2325.4 1244.9,2327.3 1240.3,2329.6C1235.7,2331.9 1230.2,2335.1 1226.6,2337.4C1223.3,2339.5 1222.1,2341.3 1218.8,2343.3C1214.8,2345.6 1208.0,2348.5 1203.1,2351.1C1198.3,2353.8 1193.4,2356.0 1189.5,2359.0C1185.6,2361.9 1183.0,2365.2 1179.7,2368.8C1176.4,2372.4 1173.2,2376.9 1169.9,2380.5C1166.6,2384.1 1163.4,2387.0 1160.1,2390.3C1156.8,2393.6 1153.6,2396.8 1150.3,2400.1C1147.0,2403.4 1143.5,2406.6 1140.5,2409.9C1137.6,2413.2 1135.0,2416.1 1132.7,2419.7C1130.4,2423.3 1128.8,2427.5 1126.8,2431.4C1124.9,2435.4 1123.2,2439.6 1120.9,2443.2C1118.6,2446.8 1115.4,2449.7 1113.1,2453.0C1110.8,2456.2 1108.9,2459.5 1107.2,2462.8C1105.6,2466.0 1104.5,2469.0 1103.3,2472.6C1102.2,2476.2 1101.0,2479.5 1100.4,2484.3C1099.6,2490.8 1098.7,2507.2 1098.4,2511.7"/>
<path stroke="#26818e" d="M1456.1,2511.7C1455.7,2507.5 1454.6,2493.1 1453.8,2486.3C1453.0,2480.0 1452.5,2475.2 1450.8,2470.6C1449.2,2466.0 1446.4,2463.4 1444.0,2458.9C1441.5,2454.3 1438.8,2448.4 1436.1,2443.2C1433.5,2438.0 1431.2,2432.7 1428.3,2427.5C1425.4,2422.3 1421.5,2416.8 1418.5,2411.9C1415.6,2407.0 1413.9,2401.7 1410.7,2398.1C1407.4,2394.6 1403.5,2392.9 1398.9,2390.3C1394.4,2387.7 1389.1,2385.3 1383.3,2382.5C1377.4,2379.7 1370.2,2376.1 1363.7,2373.7C1357.2,2371.2 1350.6,2369.3 1344.1,2367.8C1337.6,2366.3 1331.0,2365.4 1324.5,2364.9C1318.0,2364.3 1311.5,2364.1 1304.9,2364.3C1298.4,2364.4 1291.9,2364.9 1285.3,2365.8C1278.8,2366.7 1271.6,2368.3 1265.8,2369.7C1259.9,2371.2 1255.3,2372.8 1250.1,2374.6C1244.9,2376.4 1239.6,2378.2 1234.4,2380.5C1229.2,2382.8 1224.0,2385.7 1218.8,2388.4C1213.5,2391.0 1208.0,2394.2 1203.1,2396.2C1198.3,2398.1 1193.4,2398.5 1189.5,2400.1C1185.6,2401.7 1182.3,2403.4 1179.7,2406.0C1177.1,2408.6 1175.8,2412.5 1173.8,2415.8C1171.9,2419.0 1170.2,2422.3 1167.9,2425.6C1165.7,2428.8 1163.0,2431.8 1160.1,2435.4C1157.2,2438.9 1153.2,2443.8 1150.3,2447.1C1147.4,2450.4 1145.1,2452.3 1142.5,2454.9C1139.9,2457.6 1136.9,2459.8 1134.6,2462.8C1132.4,2465.7 1130.4,2469.0 1128.8,2472.6C1127.1,2476.2 1125.6,2479.4 1124.9,2484.3C1123.8,2490.8 1122.9,2507.2 1122.5,2511.7"/>
<path stroke="#228b8d" d="M1412.2,2511.7C1411.7,2507.8 1410.0,2494.8 1408.7,2488.2C1407.5,2481.9 1406.4,2477.1 1404.8,2472.6C1403.2,2468.0 1401.5,2464.1 1398.9,2460.8C1396.3,2457.6 1392.1,2455.9 1389.1,2453.0C1386.2,2450.0 1384.6,2446.8 1381.3,2443.2C1378.0,2439.6 1373.5,2435.4 1369.6,2431.4C1365.6,2427.5 1362.0,2422.8 1357.8,2419.7C1353.6,2416.6 1349.6,2414.6 1344.1,2412.8C1338.5,2411.0 1331.0,2409.7 1324.5,2408.9C1318.0,2408.1 1311.5,2407.9 1304.9,2407.9C1298.4,2407.9 1291.9,2408.4 1285.3,2408.9C1278.8,2409.4 1272.0,2409.7 1265.8,2410.9C1259.6,2412.0 1253.7,2413.3 1248.1,2415.8C1242.6,2418.2 1237.4,2422.3 1232.5,2425.6C1227.6,2428.8 1223.6,2432.1 1218.8,2435.4C1213.9,2438.6 1207.7,2441.6 1203.1,2445.1C1198.6,2448.7 1195.0,2454.0 1191.4,2456.9C1187.9,2459.8 1184.9,2460.8 1181.6,2462.8C1178.4,2464.7 1174.8,2466.0 1171.9,2468.7C1168.9,2471.3 1166.0,2474.9 1164.0,2478.4C1162.1,2482.0 1161.2,2485.4 1160.1,2490.2C1158.8,2495.7 1156.8,2508.1 1156.2,2511.7"/>
<path stroke="#1f958b" d="M1363.7,2511.7C1362.4,2508.8 1357.8,2498.4 1355.8,2494.1C1354.4,2490.9 1353.9,2488.9 1351.9,2486.3C1350.0,2483.7 1347.9,2480.6 1344.1,2478.4C1339.5,2475.8 1331.0,2473.1 1324.5,2470.6C1318.0,2468.2 1311.5,2465.2 1304.9,2463.8C1298.4,2462.3 1291.9,2461.8 1285.3,2461.8C1278.8,2461.8 1272.3,2462.6 1265.8,2463.8C1259.2,2464.9 1252.7,2466.9 1246.2,2468.7C1239.6,2470.4 1231.8,2472.6 1226.6,2474.5C1221.7,2476.4 1218.1,2477.8 1214.8,2480.4C1211.6,2483.0 1209.9,2487.3 1207.0,2490.2C1204.1,2493.1 1199.6,2494.4 1197.3,2498.0C1195.0,2501.6 1194.1,2509.5 1193.4,2511.7"/>
<path d="M1256.3,2488.3L1286.3,2518.3M1256.3,2518.3L1286.3,2488.3" stroke="#ff0000" stroke-width="4.3" fill="none"/>
</g>
<g clip-path="url(#cp42)" fill="none" stroke-width="7.5" stroke-linejoin="round" stroke-linecap="butt">
<path stroke="#472e7c" d="M1568.6,2125.9C1568.6,2127.2 1568.6,2130.6 1568.6,2133.8C1568.6,2142.9 1568.4,2166.4 1568.6,2180.8C1568.7,2195.1 1569.6,2206.9 1569.6,2219.9C1569.6,2233.0 1568.7,2246.0 1568.6,2259.1C1568.4,2272.2 1568.6,2282.6 1568.6,2298.3C1568.5,2314.6 1568.5,2337.4 1568.2,2357.0C1567.9,2376.6 1567.4,2396.2 1567.0,2415.8C1566.6,2435.4 1566.0,2458.5 1565.6,2474.5C1565.3,2489.4 1565.2,2505.5 1565.1,2511.7"/>
<path stroke="#443b84" d="M1742.9,2125.9C1742.9,2127.2 1742.6,2130.6 1742.9,2133.8C1743.2,2137.0 1744.2,2141.3 1744.8,2145.5C1745.5,2149.7 1747.1,2153.7 1746.8,2159.2C1746.5,2165.1 1744.2,2173.9 1742.9,2180.8C1741.6,2187.6 1740.3,2193.8 1739.0,2200.3C1737.7,2206.9 1736.7,2213.4 1735.1,2219.9C1733.4,2226.5 1730.8,2233.0 1729.2,2239.5C1727.5,2246.0 1726.6,2253.2 1725.3,2259.1C1724.0,2265.0 1722.7,2269.9 1721.3,2274.8C1720.0,2279.7 1719.1,2283.9 1717.4,2288.5C1715.8,2293.0 1713.2,2297.3 1711.6,2302.2C1709.9,2307.1 1708.9,2312.6 1707.6,2317.8C1706.3,2323.1 1705.4,2328.6 1703.7,2333.5C1702.1,2338.4 1699.5,2342.7 1697.8,2347.2C1696.2,2351.8 1695.2,2356.0 1693.9,2360.9C1692.6,2365.8 1692.0,2371.7 1690.0,2376.6C1688.1,2381.5 1684.1,2385.4 1682.2,2390.3C1680.2,2395.2 1679.6,2401.1 1678.3,2406.0C1677.0,2410.9 1676.0,2415.1 1674.3,2419.7C1672.7,2424.3 1670.4,2428.5 1668.5,2433.4C1666.5,2438.3 1664.9,2443.8 1662.6,2449.1C1660.3,2454.3 1657.0,2459.5 1654.8,2464.7C1652.5,2470.0 1650.8,2475.2 1648.9,2480.4C1646.9,2485.6 1644.4,2490.8 1643.0,2496.1C1641.6,2501.3 1641.0,2509.1 1640.7,2511.7"/>
<path stroke="#3f4889" d="M1829.5,2125.9C1829.4,2127.2 1829.7,2130.7 1829.1,2133.8C1828.3,2137.3 1826.5,2142.9 1825.1,2147.5C1823.8,2152.0 1822.5,2157.3 1821.2,2161.2C1819.9,2165.1 1818.3,2167.0 1817.3,2171.0C1816.3,2174.9 1816.0,2179.8 1815.4,2184.7C1814.7,2189.6 1813.9,2195.1 1813.4,2200.3C1812.9,2205.6 1813.1,2211.4 1812.4,2216.0C1811.8,2220.6 1810.9,2224.2 1809.5,2227.8C1808.0,2231.3 1805.9,2234.3 1803.6,2237.6C1801.3,2240.8 1797.7,2243.8 1795.8,2247.3C1793.8,2250.9 1793.2,2255.5 1791.9,2259.1C1790.5,2262.7 1789.9,2265.6 1787.9,2268.9C1786.0,2272.2 1782.1,2275.4 1780.1,2278.7C1778.1,2281.9 1777.8,2284.9 1776.2,2288.5C1774.6,2292.1 1772.3,2296.3 1770.3,2300.2C1768.3,2304.1 1766.7,2307.4 1764.4,2312.0C1762.1,2316.5 1758.9,2322.7 1756.6,2327.6C1754.3,2332.5 1752.4,2336.8 1750.7,2341.3C1749.1,2345.9 1748.4,2351.8 1746.8,2355.1C1745.3,2358.0 1743.2,2359.0 1740.9,2360.9C1738.6,2362.9 1735.2,2364.5 1733.1,2366.8C1731.0,2369.1 1729.5,2371.4 1728.2,2374.6C1726.9,2377.9 1726.7,2382.8 1725.3,2386.4C1723.8,2390.0 1721.3,2392.6 1719.4,2396.2C1717.4,2399.8 1715.5,2403.7 1713.5,2407.9C1711.6,2412.2 1709.6,2417.1 1707.6,2421.6C1705.7,2426.2 1704.0,2430.5 1701.8,2435.4C1699.5,2440.3 1696.5,2445.8 1693.9,2451.0C1691.3,2456.2 1688.4,2461.8 1686.1,2466.7C1683.8,2471.6 1681.9,2475.8 1680.2,2480.4C1678.6,2485.0 1677.3,2488.9 1676.3,2494.1C1675.3,2499.3 1674.7,2508.8 1674.3,2511.7"/>
<path stroke="#3a548c" d="M1701.4,2511.7C1701.6,2508.8 1701.7,2499.0 1702.7,2494.1C1703.8,2489.2 1705.5,2486.6 1707.6,2482.4C1709.8,2478.1 1712.9,2473.2 1715.5,2468.7C1718.1,2464.1 1720.7,2459.5 1723.3,2454.9C1725.9,2450.4 1728.5,2445.8 1731.1,2441.2C1733.7,2436.7 1736.4,2432.4 1739.0,2427.5C1741.6,2422.6 1744.2,2416.8 1746.8,2411.9C1749.4,2407.0 1752.0,2402.7 1754.6,2398.1C1757.3,2393.6 1759.9,2389.0 1762.5,2384.4C1765.1,2379.9 1767.7,2375.0 1770.3,2370.7C1772.9,2366.5 1775.9,2362.9 1778.1,2359.0C1780.4,2355.1 1782.1,2350.8 1784.0,2347.2C1786.0,2343.6 1787.6,2340.0 1789.9,2337.4C1792.2,2334.8 1794.8,2333.8 1797.7,2331.6C1800.7,2329.3 1804.6,2327.6 1807.5,2323.7C1810.5,2319.8 1812.7,2313.0 1815.4,2308.1C1818.0,2303.2 1820.6,2298.6 1823.2,2294.3C1825.8,2290.1 1828.4,2286.5 1831.0,2282.6C1833.6,2278.7 1836.2,2274.4 1838.9,2270.8C1841.5,2267.3 1843.8,2265.0 1846.7,2261.1C1849.6,2257.1 1853.9,2251.6 1856.5,2247.3C1859.1,2243.1 1860.7,2239.5 1862.4,2235.6C1864.0,2231.7 1865.0,2227.8 1866.3,2223.8C1867.6,2219.9 1868.9,2216.0 1870.2,2212.1C1871.5,2208.2 1871.7,2204.6 1874.1,2200.3C1876.7,2195.8 1882.5,2189.9 1885.8,2184.7C1889.0,2179.4 1890.6,2172.9 1893.6,2169.0C1896.5,2165.1 1900.1,2163.8 1903.4,2161.2C1906.6,2158.6 1910.6,2156.3 1913.2,2153.3C1915.8,2150.4 1917.1,2146.8 1919.0,2143.5C1921.0,2140.3 1923.5,2136.7 1924.9,2133.8C1926.4,2130.8 1927.4,2127.2 1927.9,2125.9"/>
<path stroke="#34608d" d="M2206.9,2225.8C2204.7,2224.2 2197.5,2218.9 2193.2,2216.0C2189.0,2213.1 2185.7,2211.1 2181.5,2208.2C2177.2,2205.2 2172.0,2201.6 2167.8,2198.4C2163.5,2195.1 2159.6,2191.9 2156.0,2188.6C2152.4,2185.3 2149.2,2182.4 2146.2,2178.8C2143.3,2175.2 2141.3,2170.3 2138.4,2167.0C2135.5,2163.8 2132.8,2161.2 2128.6,2159.2C2124.4,2157.3 2118.2,2156.1 2112.9,2155.3C2107.7,2154.5 2103.1,2154.3 2097.3,2154.3C2091.4,2154.3 2083.6,2154.3 2077.7,2155.3C2071.8,2156.3 2067.2,2158.6 2062.0,2160.2C2056.8,2161.8 2051.6,2163.3 2046.3,2165.1C2041.1,2166.9 2035.9,2169.0 2030.7,2171.0C2025.5,2172.9 2019.9,2174.9 2015.0,2176.8C2010.1,2178.8 2005.2,2180.8 2001.3,2182.7C1997.4,2184.7 1994.8,2186.0 1991.5,2188.6C1988.2,2191.2 1985.6,2195.1 1981.7,2198.4C1977.8,2201.6 1971.9,2205.2 1968.0,2208.2C1964.1,2211.1 1961.8,2213.7 1958.2,2216.0C1954.6,2218.3 1950.7,2219.9 1946.5,2221.9C1942.2,2223.8 1936.7,2225.1 1932.8,2227.8C1928.8,2230.4 1925.6,2234.6 1923.0,2237.6C1920.4,2240.5 1918.4,2242.4 1917.1,2245.4C1915.8,2248.3 1916.4,2251.6 1915.1,2255.2C1913.8,2258.8 1911.9,2263.0 1909.3,2266.9C1906.6,2270.8 1902.7,2274.8 1899.5,2278.7C1896.2,2282.6 1892.6,2286.5 1889.7,2290.4C1886.7,2294.3 1885.1,2298.1 1881.8,2302.2C1878.6,2306.3 1874.7,2311.6 1870.1,2314.9C1865.6,2318.2 1858.8,2319.3 1854.5,2321.8C1850.3,2324.2 1847.3,2326.7 1844.7,2329.6C1842.1,2332.5 1841.1,2336.1 1838.9,2339.4C1836.6,2342.7 1833.6,2345.9 1831.0,2349.2C1828.4,2352.4 1825.8,2355.4 1823.2,2359.0C1820.6,2362.6 1818.0,2367.1 1815.4,2370.7C1812.7,2374.3 1810.5,2376.9 1807.5,2380.5C1804.6,2384.1 1800.3,2389.0 1797.7,2392.3C1795.3,2395.3 1793.5,2397.2 1791.9,2400.1C1790.2,2403.0 1789.2,2406.3 1787.9,2409.9C1786.6,2413.5 1785.6,2417.4 1784.0,2421.6C1782.4,2425.9 1780.4,2431.1 1778.1,2435.4C1775.9,2439.6 1772.9,2443.5 1770.3,2447.1C1767.7,2450.7 1765.4,2453.3 1762.5,2456.9C1759.5,2460.5 1755.6,2464.7 1752.7,2468.7C1749.7,2472.6 1747.3,2476.8 1744.8,2480.4C1742.4,2484.0 1739.7,2485.7 1738.0,2490.2C1736.0,2495.4 1733.9,2508.1 1733.1,2511.7"/>
<path stroke="#2f6c8e" d="M2206.9,2330.6C2205.0,2329.4 2198.5,2325.5 2195.2,2323.7C2192.1,2322.0 2189.3,2321.4 2187.4,2319.8C2185.4,2318.2 2184.6,2315.7 2183.4,2313.9C2182.3,2312.1 2182.1,2310.3 2180.5,2309.0C2178.9,2307.7 2175.8,2307.2 2173.6,2306.1C2171.5,2305.0 2168.8,2303.5 2167.8,2302.2C2166.8,2300.9 2167.0,2299.6 2167.8,2298.3C2168.8,2296.6 2172.3,2294.3 2173.6,2292.4C2175.0,2290.4 2175.9,2288.8 2175.6,2286.5C2175.3,2284.2 2173.3,2281.0 2171.7,2278.7C2170.1,2276.4 2168.4,2274.3 2165.8,2272.8C2163.2,2271.3 2159.9,2271.0 2156.0,2269.9C2152.1,2268.7 2146.9,2267.3 2142.3,2265.9C2137.7,2264.6 2132.8,2263.5 2128.6,2262.0C2124.4,2260.6 2119.8,2258.6 2116.9,2257.1C2114.3,2255.9 2113.6,2254.4 2111.0,2253.2C2107.7,2251.7 2102.8,2249.8 2097.3,2248.3C2091.7,2246.9 2084.2,2245.5 2077.7,2244.4C2071.2,2243.3 2064.6,2242.1 2058.1,2241.5C2051.6,2240.8 2045.0,2240.5 2038.5,2240.5C2032.0,2240.5 2025.5,2240.8 2018.9,2241.5C2012.4,2242.1 2005.2,2243.4 1999.3,2244.4C1993.5,2245.4 1988.6,2246.2 1983.7,2247.3C1978.8,2248.5 1973.6,2249.6 1970.0,2251.3C1966.4,2252.9 1963.8,2254.2 1962.1,2257.1C1960.5,2260.1 1959.5,2265.6 1960.2,2268.9C1960.8,2272.2 1965.4,2274.8 1966.0,2276.7C1966.6,2278.4 1965.3,2279.4 1964.1,2280.6C1962.1,2282.6 1957.9,2286.2 1954.3,2288.5C1950.7,2290.8 1946.5,2292.7 1942.5,2294.3C1938.6,2296.0 1933.4,2296.3 1930.8,2298.3C1928.2,2300.2 1929.5,2303.8 1926.9,2306.1C1923.9,2308.7 1917.1,2311.3 1913.2,2313.9C1909.3,2316.5 1906.6,2318.5 1903.4,2321.8C1900.1,2325.0 1896.2,2330.6 1893.6,2333.5C1891.4,2336.0 1890.0,2337.1 1887.7,2339.4C1885.4,2341.7 1882.8,2344.1 1879.9,2347.2C1876.9,2350.3 1873.4,2355.1 1870.1,2358.0C1866.9,2360.9 1863.3,2362.4 1860.4,2364.9C1857.5,2367.3 1855.5,2370.4 1852.6,2372.7C1849.6,2375.0 1846.0,2376.3 1842.8,2378.6C1839.5,2380.8 1835.6,2383.5 1833.0,2386.4C1830.4,2389.3 1829.4,2393.2 1827.1,2396.2C1824.8,2399.1 1821.9,2401.1 1819.3,2404.0C1816.7,2407.0 1814.4,2410.5 1811.4,2413.8C1808.5,2417.1 1804.6,2420.3 1801.6,2423.6C1798.7,2426.9 1796.4,2430.1 1793.8,2433.4C1791.2,2436.7 1788.6,2439.6 1786.0,2443.2C1783.4,2446.8 1780.8,2451.0 1778.1,2454.9C1775.5,2458.9 1772.9,2462.8 1770.3,2466.7C1767.7,2470.6 1764.6,2474.5 1762.5,2478.4C1760.4,2482.4 1758.5,2485.2 1757.6,2490.2C1756.6,2495.7 1756.8,2508.1 1756.6,2511.7"/>
<path stroke="#2a768e" d="M2193.6,2511.7C2193.2,2506.8 2192.0,2490.5 2191.3,2482.4C2190.6,2474.5 2190.3,2469.6 2189.3,2462.8C2188.3,2455.9 2186.7,2448.1 2185.4,2441.2C2184.1,2434.4 2182.8,2427.8 2181.5,2421.6C2180.2,2415.4 2178.9,2409.6 2177.6,2404.0C2176.3,2398.5 2175.0,2393.2 2173.6,2388.4C2172.3,2383.5 2171.0,2379.2 2169.7,2374.6C2168.4,2370.1 2167.4,2365.2 2165.8,2360.9C2164.2,2356.7 2162.2,2352.8 2159.9,2349.2C2157.7,2345.6 2154.7,2342.3 2152.1,2339.4C2149.5,2336.5 2145.9,2333.8 2144.3,2331.6C2142.8,2329.5 2143.3,2328.0 2142.3,2325.7C2141.3,2323.4 2140.7,2319.8 2138.4,2317.8C2136.1,2315.9 2132.5,2315.2 2128.6,2313.9C2124.7,2312.6 2120.1,2311.2 2114.9,2310.0C2109.7,2308.9 2103.5,2308.1 2097.3,2307.1C2091.1,2306.1 2084.2,2304.8 2077.7,2304.1C2071.2,2303.5 2065.3,2303.0 2058.1,2303.2C2050.9,2303.3 2041.8,2304.0 2034.6,2305.1C2027.4,2306.3 2020.9,2308.5 2015.0,2310.0C2009.1,2311.5 2004.6,2312.8 1999.3,2313.9C1994.1,2315.1 1988.9,2315.9 1983.7,2316.9C1978.5,2317.8 1971.3,2319.0 1968.0,2319.8C1966.3,2320.2 1965.7,2321.0 1964.1,2321.8C1962.1,2322.7 1959.5,2324.4 1956.3,2325.7C1952.7,2327.2 1946.5,2329.3 1942.5,2330.6C1938.7,2331.9 1935.4,2332.0 1932.8,2333.5C1930.1,2335.0 1929.2,2337.1 1926.9,2339.4C1924.6,2341.7 1922.6,2345.3 1919.0,2347.2C1915.5,2349.2 1908.9,2349.8 1905.3,2351.1C1902.0,2352.3 1899.8,2353.4 1897.5,2355.1C1895.2,2356.7 1893.5,2358.2 1891.6,2360.9C1889.7,2363.9 1887.7,2369.1 1885.8,2372.7C1883.8,2376.3 1881.8,2379.9 1879.9,2382.5C1877.9,2385.1 1876.5,2386.2 1874.0,2388.4C1871.4,2390.6 1867.6,2393.2 1864.3,2396.2C1861.1,2399.1 1857.8,2402.7 1854.5,2406.0C1851.3,2409.2 1848.0,2412.2 1844.7,2415.8C1841.5,2419.4 1838.2,2423.9 1834.9,2427.5C1831.7,2431.1 1828.4,2433.7 1825.1,2437.3C1821.9,2440.9 1818.6,2445.5 1815.4,2449.1C1812.1,2452.7 1808.8,2455.3 1805.6,2458.9C1802.3,2462.4 1798.7,2466.4 1795.8,2470.6C1792.8,2474.9 1790.1,2480.4 1787.9,2484.3C1785.8,2488.2 1784.1,2489.9 1783.0,2494.1C1781.9,2498.7 1781.4,2508.8 1781.1,2511.7"/>
<path stroke="#26818e" d="M2150.5,2511.7C2150.1,2507.5 2149.2,2493.1 2148.2,2486.3C2147.2,2479.9 2145.6,2475.8 2144.3,2470.6C2143.0,2465.4 2142.0,2460.5 2140.4,2454.9C2138.7,2449.4 2136.4,2442.9 2134.5,2437.3C2132.5,2431.8 2130.6,2426.5 2128.6,2421.6C2126.6,2416.8 2124.7,2412.2 2122.7,2407.9C2120.8,2403.7 2118.5,2399.8 2116.9,2396.2C2115.2,2392.6 2113.8,2389.3 2112.9,2386.4C2112.1,2383.5 2112.9,2380.8 2112.0,2378.6C2111.0,2376.3 2109.3,2374.8 2107.1,2372.7C2104.6,2370.4 2101.5,2367.5 2097.3,2364.9C2093.0,2362.2 2087.5,2359.6 2081.6,2357.0C2075.7,2354.4 2068.5,2351.3 2062.0,2349.2C2055.5,2347.1 2048.0,2345.6 2042.4,2344.3C2037.0,2343.0 2031.0,2342.5 2028.7,2341.3C2027.3,2340.6 2029.0,2338.8 2028.7,2337.4C2028.4,2336.1 2028.6,2333.5 2026.8,2333.1C2023.8,2332.5 2016.3,2333.3 2011.1,2333.5C2005.9,2333.7 2001.0,2334.0 1995.4,2334.5C1989.9,2335.0 1983.0,2335.6 1977.8,2336.5C1972.6,2337.3 1967.7,2338.2 1964.1,2339.4C1960.8,2340.5 1957.9,2341.7 1956.3,2343.3C1954.6,2344.9 1954.0,2347.6 1954.3,2349.2C1954.6,2350.8 1956.2,2352.2 1958.2,2353.1C1960.5,2354.1 1965.7,2354.2 1968.0,2355.1C1969.9,2355.7 1971.9,2357.2 1971.9,2358.0C1971.9,2358.8 1969.7,2359.5 1968.0,2360.0C1966.0,2360.4 1962.5,2360.1 1960.2,2360.9C1957.9,2361.8 1955.9,2363.5 1954.3,2364.9C1952.7,2366.2 1952.2,2367.5 1950.4,2368.8C1948.4,2370.1 1945.2,2371.7 1942.5,2372.7C1939.9,2373.7 1937.7,2373.7 1934.7,2374.6C1931.8,2375.6 1927.9,2377.3 1924.9,2378.6C1922.0,2379.9 1918.7,2380.8 1917.1,2382.5C1915.5,2384.1 1915.8,2386.4 1915.1,2388.4C1914.5,2390.3 1915.1,2392.6 1913.2,2394.2C1911.2,2395.9 1906.6,2396.8 1903.4,2398.1C1900.1,2399.5 1896.5,2400.4 1893.6,2402.1C1890.6,2403.7 1888.0,2405.3 1885.8,2407.9C1883.5,2410.5 1882.2,2415.0 1879.9,2417.7C1877.6,2420.5 1875.2,2421.8 1872.1,2424.6C1868.8,2427.5 1864.0,2432.3 1860.4,2435.4C1856.8,2438.5 1853.9,2440.6 1850.6,2443.2C1847.3,2445.8 1844.1,2448.1 1840.8,2451.0C1837.5,2454.0 1834.0,2457.6 1831.0,2460.8C1828.1,2464.1 1826.1,2467.3 1823.2,2470.6C1820.2,2473.9 1816.2,2477.1 1813.4,2480.4C1810.6,2483.7 1808.0,2485.6 1806.5,2490.2C1804.9,2495.4 1804.1,2508.1 1803.6,2511.7"/>
<path stroke="#228b8d" d="M2106.1,2511.7C2105.6,2509.1 2104.3,2500.6 2103.1,2496.1C2102.0,2491.5 2101.2,2488.9 2099.2,2484.3C2097.3,2479.7 2094.0,2473.5 2091.4,2468.7C2088.8,2463.8 2086.2,2459.5 2083.6,2454.9C2080.9,2450.4 2078.7,2445.5 2075.7,2441.2C2072.8,2437.0 2069.5,2433.4 2065.9,2429.5C2062.3,2425.6 2058.1,2421.0 2054.2,2417.7C2050.3,2414.5 2046.3,2412.2 2042.4,2409.9C2038.5,2407.6 2035.2,2405.7 2030.7,2404.0C2026.1,2402.4 2020.2,2401.6 2015.0,2400.1C2009.8,2398.6 2004.6,2396.2 1999.3,2395.2C1994.1,2394.2 1988.6,2394.1 1983.7,2394.2C1978.8,2394.4 1973.9,2395.2 1970.0,2396.2C1966.0,2397.2 1962.5,2398.5 1960.2,2400.1C1957.9,2401.7 1957.9,2404.3 1956.3,2406.0C1954.6,2407.6 1952.9,2408.6 1950.4,2409.9C1947.8,2411.2 1944.2,2412.5 1940.6,2413.8C1937.0,2415.1 1932.4,2416.4 1928.8,2417.7C1925.2,2419.0 1922.0,2420.3 1919.0,2421.6C1916.1,2423.0 1913.5,2423.6 1911.2,2425.6C1908.9,2427.5 1907.9,2431.1 1905.3,2433.4C1902.7,2435.7 1898.5,2437.3 1895.5,2439.3C1892.6,2441.2 1890.3,2442.9 1887.7,2445.1C1885.1,2447.4 1882.3,2450.4 1879.9,2453.0C1877.4,2455.6 1875.7,2457.9 1873.1,2460.8C1870.5,2463.8 1867.1,2467.3 1864.3,2470.6C1861.5,2473.9 1859.1,2477.1 1856.5,2480.4C1853.9,2483.7 1851.1,2486.6 1848.6,2490.2C1846.2,2493.8 1843.4,2498.4 1841.8,2501.9C1840.2,2505.5 1839.3,2510.1 1838.9,2511.7"/>
<path stroke="#1f958b" d="M1872.0,2511.7C1873.0,2510.3 1875.0,2506.0 1877.9,2502.9C1880.9,2499.8 1885.4,2496.4 1889.7,2493.1C1893.9,2489.9 1898.5,2486.4 1903.4,2483.3C1908.3,2480.2 1913.8,2477.1 1919.0,2474.5C1924.3,2471.9 1929.2,2470.0 1934.7,2467.7C1940.3,2465.4 1946.8,2462.8 1952.3,2460.8C1957.9,2458.9 1962.8,2457.1 1968.0,2455.9C1973.2,2454.8 1978.5,2454.0 1983.7,2454.0C1988.9,2454.0 1994.4,2454.6 1999.3,2455.9C2004.2,2457.2 2008.8,2459.3 2013.1,2461.8C2017.3,2464.2 2020.9,2467.5 2024.8,2470.6C2028.7,2473.7 2033.3,2477.1 2036.6,2480.4C2039.8,2483.7 2042.1,2486.9 2044.4,2490.2C2046.7,2493.5 2048.6,2496.4 2050.3,2500.0C2051.9,2503.6 2053.5,2509.8 2054.2,2511.7"/>
<path d="M1942.8,2488.3L1972.8,2518.3M1942.8,2518.3L1972.8,2488.3" stroke="#ff0000" stroke-width="4.3" fill="none"/>
</g>
<rect x="221.50" y="145.40" width="647.90" height="56.50" fill="#ffffff" stroke="#000" stroke-width="2.9"/>
<text x="234.50" y="191.90" font-family="DejaVu Sans Mono" font-size="45.1" xml:space="preserve">a: 9.0%   cap: 0.447Ah</text>
<rect x="221.90" y="201.90" width="648.20" height="371.40" fill="none" stroke="#000" stroke-width="3.89" stroke-linejoin="miter"/>
<line x1="204.60" y1="573.30" x2="221.90" y2="573.30" stroke="#000" stroke-width="3.89"/>
<text x="186.30" y="591.50" font-family="DejaVu Sans" font-size="50.0" text-anchor="end">20</text>
<line x1="204.60" y1="467.19" x2="221.90" y2="467.19" stroke="#000" stroke-width="3.89"/>
<text x="186.30" y="485.39" font-family="DejaVu Sans" font-size="50.0" text-anchor="end">100</text>
<line x1="204.60" y1="334.54" x2="221.90" y2="334.54" stroke="#000" stroke-width="3.89"/>
<text x="186.30" y="352.74" font-family="DejaVu Sans" font-size="50.0" text-anchor="end">200</text>
<line x1="204.60" y1="201.90" x2="221.90" y2="201.90" stroke="#000" stroke-width="3.89"/>
<text x="186.30" y="220.10" font-family="DejaVu Sans" font-size="50.0" text-anchor="end">300</text>
<rect x="888.50" y="145.40" width="647.90" height="56.50" fill="#ffffff" stroke="#000" stroke-width="2.9"/>
<text x="901.50" y="191.90" font-family="DejaVu Sans Mono" font-size="45.1" xml:space="preserve">a: 6.4%   cap: 0.447Ah</text>
<rect x="888.90" y="201.90" width="648.20" height="371.40" fill="none" stroke="#000" stroke-width="3.89" stroke-linejoin="miter"/>
<rect x="1555.50" y="145.40" width="647.90" height="56.50" fill="#ffffff" stroke="#000" stroke-width="2.9"/>
<text x="1568.50" y="191.90" font-family="DejaVu Sans Mono" font-size="45.1" xml:space="preserve">a: 11.5%  cap: 0.447Ah</text>
<rect x="1555.90" y="201.90" width="648.20" height="371.40" fill="none" stroke="#000" stroke-width="3.89" stroke-linejoin="miter"/>
<text transform="translate(62.7,390.40) rotate(-90)" x="0" y="0" font-family="DejaVu Sans" font-size="50.0" text-anchor="middle">C/10</text>
<rect x="221.50" y="627.90" width="647.90" height="56.50" fill="#ffffff" stroke="#000" stroke-width="2.9"/>
<text x="234.50" y="674.40" font-family="DejaVu Sans Mono" font-size="45.1" xml:space="preserve">a: 13.5%  cap: 0.429Ah</text>
<rect x="221.90" y="684.40" width="648.20" height="371.40" fill="none" stroke="#000" stroke-width="3.89" stroke-linejoin="miter"/>
<line x1="204.60" y1="1055.80" x2="221.90" y2="1055.80" stroke="#000" stroke-width="3.89"/>
<text x="186.30" y="1074.00" font-family="DejaVu Sans" font-size="50.0" text-anchor="end">20</text>
<line x1="204.60" y1="949.69" x2="221.90" y2="949.69" stroke="#000" stroke-width="3.89"/>
<text x="186.30" y="967.89" font-family="DejaVu Sans" font-size="50.0" text-anchor="end">100</text>
<line x1="204.60" y1="817.04" x2="221.90" y2="817.04" stroke="#000" stroke-width="3.89"/>
<text x="186.30" y="835.24" font-family="DejaVu Sans" font-size="50.0" text-anchor="end">200</text>
<line x1="204.60" y1="684.40" x2="221.90" y2="684.40" stroke="#000" stroke-width="3.89"/>
<text x="186.30" y="702.60" font-family="DejaVu Sans" font-size="50.0" text-anchor="end">300</text>
<rect x="888.50" y="627.90" width="647.90" height="56.50" fill="#ffffff" stroke="#000" stroke-width="2.9"/>
<text x="901.50" y="674.40" font-family="DejaVu Sans Mono" font-size="45.1" xml:space="preserve">a: 13.8%  cap: 0.429Ah</text>
<rect x="888.90" y="684.40" width="648.20" height="371.40" fill="none" stroke="#000" stroke-width="3.89" stroke-linejoin="miter"/>
<rect x="1555.50" y="627.90" width="647.90" height="56.50" fill="#ffffff" stroke="#000" stroke-width="2.9"/>
<text x="1568.50" y="674.40" font-family="DejaVu Sans Mono" font-size="45.1" xml:space="preserve">a: 15.4%  cap: 0.429Ah</text>
<rect x="1555.90" y="684.40" width="648.20" height="371.40" fill="none" stroke="#000" stroke-width="3.89" stroke-linejoin="miter"/>
<text transform="translate(62.7,872.90) rotate(-90)" x="0" y="0" font-family="DejaVu Sans" font-size="50.0" text-anchor="middle">C/2</text>
<rect x="221.50" y="1110.40" width="647.90" height="56.50" fill="#ffffff" stroke="#000" stroke-width="2.9"/>
<text x="234.50" y="1156.90" font-family="DejaVu Sans Mono" font-size="45.1" xml:space="preserve">a: 18.9%  cap: 0.414Ah</text>
<rect x="221.90" y="1166.90" width="648.20" height="371.40" fill="none" stroke="#000" stroke-width="3.89" stroke-linejoin="miter"/>
<line x1="204.60" y1="1538.30" x2="221.90" y2="1538.30" stroke="#000" stroke-width="3.89"/>
<text x="186.30" y="1556.50" font-family="DejaVu Sans" font-size="50.0" text-anchor="end">20</text>
<line x1="204.60" y1="1432.19" x2="221.90" y2="1432.19" stroke="#000" stroke-width="3.89"/>
<text x="186.30" y="1450.39" font-family="DejaVu Sans" font-size="50.0" text-anchor="end">100</text>
<line x1="204.60" y1="1299.54" x2="221.90" y2="1299.54" stroke="#000" stroke-width="3.89"/>
<text x="186.30" y="1317.74" font-family="DejaVu Sans" font-size="50.0" text-anchor="end">200</text>
<line x1="204.60" y1="1166.90" x2="221.90" y2="1166.90" stroke="#000" stroke-width="3.89"/>
<text x="186.30" y="1185.10" font-family="DejaVu Sans" font-size="50.0" text-anchor="end">300</text>
<rect x="888.50" y="1110.40" width="647.90" height="56.50" fill="#ffffff" stroke="#000" stroke-width="2.9"/>
<text x="901.50" y="1156.90" font-family="DejaVu Sans Mono" font-size="45.1" xml:space="preserve">a: 18.8%  cap: 0.414Ah</text>
<rect x="888.90" y="1166.90" width="648.20" height="371.40" fill="none" stroke="#000" stroke-width="3.89" stroke-linejoin="miter"/>
<rect x="1555.50" y="1110.40" width="647.90" height="56.50" fill="#ffffff" stroke="#000" stroke-width="2.9"/>
<text x="1568.50" y="1156.90" font-family="DejaVu Sans Mono" font-size="45.1" xml:space="preserve">a: 20.1%  cap: 0.414Ah</text>
<rect x="1555.90" y="1166.90" width="648.20" height="371.40" fill="none" stroke="#000" stroke-width="3.89" stroke-linejoin="miter"/>
<text transform="translate(62.7,1355.40) rotate(-90)" x="0" y="0" font-family="DejaVu Sans" font-size="50.0" text-anchor="middle">1C</text>
<rect x="221.50" y="1592.90" width="647.90" height="56.50" fill="#ffffff" stroke="#000" stroke-width="2.9"/>
<text x="234.50" y="1639.40" font-family="DejaVu Sans Mono" font-size="45.1" xml:space="preserve">a: 20.4%  cap: 0.381Ah</text>
<rect x="221.90" y="1649.40" width="648.20" height="371.40" fill="none" stroke="#000" stroke-width="3.89" stroke-linejoin="miter"/>
<line x1="204.60" y1="2020.80" x2="221.90" y2="2020.80" stroke="#000" stroke-width="3.89"/>
<text x="186.30" y="2039.00" font-family="DejaVu Sans" font-size="50.0" text-anchor="end">20</text>
<line x1="204.60" y1="1914.69" x2="221.90" y2="1914.69" stroke="#000" stroke-width="3.89"/>
<text x="186.30" y="1932.89" font-family="DejaVu Sans" font-size="50.0" text-anchor="end">100</text>
<line x1="204.60" y1="1782.04" x2="221.90" y2="1782.04" stroke="#000" stroke-width="3.89"/>
<text x="186.30" y="1800.24" font-family="DejaVu Sans" font-size="50.0" text-anchor="end">200</text>
<line x1="204.60" y1="1649.40" x2="221.90" y2="1649.40" stroke="#000" stroke-width="3.89"/>
<text x="186.30" y="1667.60" font-family="DejaVu Sans" font-size="50.0" text-anchor="end">300</text>
<rect x="888.50" y="1592.90" width="647.90" height="56.50" fill="#ffffff" stroke="#000" stroke-width="2.9"/>
<text x="901.50" y="1639.40" font-family="DejaVu Sans Mono" font-size="45.1" xml:space="preserve">a: 20.7%  cap: 0.381Ah</text>
<rect x="888.90" y="1649.40" width="648.20" height="371.40" fill="none" stroke="#000" stroke-width="3.89" stroke-linejoin="miter"/>
<rect x="1555.50" y="1592.90" width="647.90" height="56.50" fill="#ffffff" stroke="#000" stroke-width="2.9"/>
<text x="1568.50" y="1639.40" font-family="DejaVu Sans Mono" font-size="45.1" xml:space="preserve">a: 21.5%  cap: 0.381Ah</text>
<rect x="1555.90" y="1649.40" width="648.20" height="371.40" fill="none" stroke="#000" stroke-width="3.89" stroke-linejoin="miter"/>
<text transform="translate(62.7,1837.90) rotate(-90)" x="0" y="0" font-family="DejaVu Sans" font-size="50.0" text-anchor="middle">2C</text>
<rect x="221.50" y="2075.40" width="647.90" height="56.50" fill="#ffffff" stroke="#000" stroke-width="2.9"/>
<text x="234.50" y="2121.90" font-family="DejaVu Sans Mono" font-size="45.1" xml:space="preserve">a: 29.9%  cap: 0.254Ah</text>
<rect x="221.90" y="2131.90" width="648.20" height="371.40" fill="none" stroke="#000" stroke-width="3.89" stroke-linejoin="miter"/>
<line x1="204.60" y1="2503.30" x2="221.90" y2="2503.30" stroke="#000" stroke-width="3.89"/>
<text x="186.30" y="2521.50" font-family="DejaVu Sans" font-size="50.0" text-anchor="end">20</text>
<line x1="204.60" y1="2397.19" x2="221.90" y2="2397.19" stroke="#000" stroke-width="3.89"/>
<text x="186.30" y="2415.39" font-family="DejaVu Sans" font-size="50.0" text-anchor="end">100</text>
<line x1="204.60" y1="2264.54" x2="221.90" y2="2264.54" stroke="#000" stroke-width="3.89"/>
<text x="186.30" y="2282.74" font-family="DejaVu Sans" font-size="50.0" text-anchor="end">200</text>
<line x1="204.60" y1="2131.90" x2="221.90" y2="2131.90" stroke="#000" stroke-width="3.89"/>
<text x="186.30" y="2150.10" font-family="DejaVu Sans" font-size="50.0" text-anchor="end">300</text>
<line x1="221.90" y1="2503.30" x2="221.90" y2="2520.60" stroke="#000" stroke-width="3.89"/>
<text x="221.90" y="2576.00" font-family="DejaVu Sans" font-size="50.0" text-anchor="middle">0</text>
<line x1="351.54" y1="2503.30" x2="351.54" y2="2520.60" stroke="#000" stroke-width="3.89"/>
<text x="351.54" y="2576.00" font-family="DejaVu Sans" font-size="50.0" text-anchor="middle">10</text>
<line x1="481.18" y1="2503.30" x2="481.18" y2="2520.60" stroke="#000" stroke-width="3.89"/>
<text x="481.18" y="2576.00" font-family="DejaVu Sans" font-size="50.0" text-anchor="middle">20</text>
<line x1="610.82" y1="2503.30" x2="610.82" y2="2520.60" stroke="#000" stroke-width="3.89"/>
<text x="610.82" y="2576.00" font-family="DejaVu Sans" font-size="50.0" text-anchor="middle">30</text>
<line x1="740.46" y1="2503.30" x2="740.46" y2="2520.60" stroke="#000" stroke-width="3.89"/>
<text x="740.46" y="2576.00" font-family="DejaVu Sans" font-size="50.0" text-anchor="middle">40</text>
<rect x="888.50" y="2075.40" width="647.90" height="56.50" fill="#ffffff" stroke="#000" stroke-width="2.9"/>
<text x="901.50" y="2121.90" font-family="DejaVu Sans Mono" font-size="45.1" xml:space="preserve">a: 29.5%  cap: 0.258Ah</text>
<rect x="888.90" y="2131.90" width="648.20" height="371.40" fill="none" stroke="#000" stroke-width="3.89" stroke-linejoin="miter"/>
<line x1="888.90" y1="2503.30" x2="888.90" y2="2520.60" stroke="#000" stroke-width="3.89"/>
<text x="888.90" y="2576.00" font-family="DejaVu Sans" font-size="50.0" text-anchor="middle">0</text>
<line x1="1018.54" y1="2503.30" x2="1018.54" y2="2520.60" stroke="#000" stroke-width="3.89"/>
<text x="1018.54" y="2576.00" font-family="DejaVu Sans" font-size="50.0" text-anchor="middle">10</text>
<line x1="1148.18" y1="2503.30" x2="1148.18" y2="2520.60" stroke="#000" stroke-width="3.89"/>
<text x="1148.18" y="2576.00" font-family="DejaVu Sans" font-size="50.0" text-anchor="middle">20</text>
<line x1="1277.82" y1="2503.30" x2="1277.82" y2="2520.60" stroke="#000" stroke-width="3.89"/>
<text x="1277.82" y="2576.00" font-family="DejaVu Sans" font-size="50.0" text-anchor="middle">30</text>
<line x1="1407.46" y1="2503.30" x2="1407.46" y2="2520.60" stroke="#000" stroke-width="3.89"/>
<text x="1407.46" y="2576.00" font-family="DejaVu Sans" font-size="50.0" text-anchor="middle">40</text>
<rect x="1555.50" y="2075.40" width="647.90" height="56.50" fill="#ffffff" stroke="#000" stroke-width="2.9"/>
<text x="1568.50" y="2121.90" font-family="DejaVu Sans Mono" font-size="45.1" xml:space="preserve">a: 31.0%  cap: 0.258Ah</text>
<rect x="1555.90" y="2131.90" width="648.20" height="371.40" fill="none" stroke="#000" stroke-width="3.89" stroke-linejoin="miter"/>
<line x1="1555.90" y1="2503.30" x2="1555.90" y2="2520.60" stroke="#000" stroke-width="3.89"/>
<text x="1555.90" y="2576.00" font-family="DejaVu Sans" font-size="50.0" text-anchor="middle">0</text>
<line x1="1685.54" y1="2503.30" x2="1685.54" y2="2520.60" stroke="#000" stroke-width="3.89"/>
<text x="1685.54" y="2576.00" font-family="DejaVu Sans" font-size="50.0" text-anchor="middle">10</text>
<line x1="1815.18" y1="2503.30" x2="1815.18" y2="2520.60" stroke="#000" stroke-width="3.89"/>
<text x="1815.18" y="2576.00" font-family="DejaVu Sans" font-size="50.0" text-anchor="middle">20</text>
<line x1="1944.82" y1="2503.30" x2="1944.82" y2="2520.60" stroke="#000" stroke-width="3.89"/>
<text x="1944.82" y="2576.00" font-family="DejaVu Sans" font-size="50.0" text-anchor="middle">30</text>
<line x1="2074.46" y1="2503.30" x2="2074.46" y2="2520.60" stroke="#000" stroke-width="3.89"/>
<text x="2074.46" y="2576.00" font-family="DejaVu Sans" font-size="50.0" text-anchor="middle">40</text>
<line x1="2204.10" y1="2503.30" x2="2204.10" y2="2520.60" stroke="#000" stroke-width="3.89"/>
<text x="2204.10" y="2576.00" font-family="DejaVu Sans" font-size="50.0" text-anchor="middle">50</text>
<text transform="translate(62.7,2320.40) rotate(-90)" x="0" y="0" font-family="DejaVu Sans" font-size="50.0" text-anchor="middle">3C</text>
<text x="544.50" y="102.6" font-family="DejaVu Sans Mono" font-weight="bold" font-size="60.3" text-anchor="middle">Line Structuring</text>
<text x="1211.50" y="102.6" font-family="DejaVu Sans Mono" font-weight="bold" font-size="60.3" text-anchor="middle">Grid Structuring</text>
<text x="1878.50" y="102.6" font-family="DejaVu Sans Mono" font-weight="bold" font-size="60.3" text-anchor="middle">Hole Structuring</text>
<rect x="221.90" y="2623.30" width="86.77" height="59.20" fill="#46085c"/>
<rect x="308.07" y="2623.30" width="86.77" height="59.20" fill="#48186a"/>
<rect x="394.24" y="2623.30" width="86.77" height="59.20" fill="#482677"/>
<rect x="480.41" y="2623.30" width="86.77" height="59.20" fill="#463480"/>
<rect x="566.58" y="2623.30" width="86.77" height="59.20" fill="#414287"/>
<rect x="652.75" y="2623.30" width="86.77" height="59.20" fill="#3c4f8a"/>
<rect x="738.92" y="2623.30" width="86.77" height="59.20" fill="#375b8d"/>
<rect x="825.09" y="2623.30" width="86.77" height="59.20" fill="#31668e"/>
<rect x="911.26" y="2623.30" width="86.77" height="59.20" fill="#2d718e"/>
<rect x="997.43" y="2623.30" width="86.77" height="59.20" fill="#297b8e"/>
<rect x="1083.60" y="2623.30" width="86.77" height="59.20" fill="#25858e"/>
<rect x="1169.77" y="2623.30" width="86.77" height="59.20" fill="#21918c"/>
<rect x="1255.93" y="2623.30" width="86.77" height="59.20" fill="#1e9b8a"/>
<rect x="1342.10" y="2623.30" width="86.77" height="59.20" fill="#21a585"/>
<rect x="1428.27" y="2623.30" width="86.77" height="59.20" fill="#29af7f"/>
<rect x="1514.44" y="2623.30" width="86.77" height="59.20" fill="#38b977"/>
<rect x="1600.61" y="2623.30" width="86.77" height="59.20" fill="#4cc26c"/>
<rect x="1686.78" y="2623.30" width="86.77" height="59.20" fill="#63cb5f"/>
<rect x="1772.95" y="2623.30" width="86.77" height="59.20" fill="#7cd250"/>
<rect x="1859.12" y="2623.30" width="86.77" height="59.20" fill="#9bd93c"/>
<rect x="1945.29" y="2623.30" width="86.77" height="59.20" fill="#b8de29"/>
<rect x="2031.46" y="2623.30" width="86.77" height="59.20" fill="#d5e21a"/>
<rect x="2117.63" y="2623.30" width="86.77" height="59.20" fill="#f1e51d"/>
<rect x="221.90" y="2623.30" width="1981.90" height="59.20" fill="none" stroke="#000" stroke-width="3.89"/>
<line x1="221.90" y1="2682.50" x2="221.90" y2="2699.80" stroke="#000" stroke-width="3.89"/>
<text x="221.90" y="2755.8" font-family="DejaVu Sans" font-size="50.0" text-anchor="middle">0.00</text>
<line x1="437.32" y1="2682.50" x2="437.32" y2="2699.80" stroke="#000" stroke-width="3.89"/>
<text x="437.32" y="2755.8" font-family="DejaVu Sans" font-size="50.0" text-anchor="middle">0.05</text>
<line x1="652.75" y1="2682.50" x2="652.75" y2="2699.80" stroke="#000" stroke-width="3.89"/>
<text x="652.75" y="2755.8" font-family="DejaVu Sans" font-size="50.0" text-anchor="middle">0.10</text>
<line x1="868.17" y1="2682.50" x2="868.17" y2="2699.80" stroke="#000" stroke-width="3.89"/>
<text x="868.17" y="2755.8" font-family="DejaVu Sans" font-size="50.0" text-anchor="middle">0.15</text>
<line x1="1083.60" y1="2682.50" x2="1083.60" y2="2699.80" stroke="#000" stroke-width="3.89"/>
<text x="1083.60" y="2755.8" font-family="DejaVu Sans" font-size="50.0" text-anchor="middle">0.20</text>
<line x1="1299.02" y1="2682.50" x2="1299.02" y2="2699.80" stroke="#000" stroke-width="3.89"/>
<text x="1299.02" y="2755.8" font-family="DejaVu Sans" font-size="50.0" text-anchor="middle">0.25</text>
<line x1="1514.44" y1="2682.50" x2="1514.44" y2="2699.80" stroke="#000" stroke-width="3.89"/>
<text x="1514.44" y="2755.8" font-family="DejaVu Sans" font-size="50.0" text-anchor="middle">0.30</text>
<line x1="1729.87" y1="2682.50" x2="1729.87" y2="2699.80" stroke="#000" stroke-width="3.89"/>
<text x="1729.87" y="2755.8" font-family="DejaVu Sans" font-size="50.0" text-anchor="middle">0.35</text>
<line x1="1945.29" y1="2682.50" x2="1945.29" y2="2699.80" stroke="#000" stroke-width="3.89"/>
<text x="1945.29" y="2755.8" font-family="DejaVu Sans" font-size="50.0" text-anchor="middle">0.40</text>
<line x1="2160.72" y1="2682.50" x2="2160.72" y2="2699.80" stroke="#000" stroke-width="3.89"/>
<text x="2160.72" y="2755.8" font-family="DejaVu Sans" font-size="50.0" text-anchor="middle">0.45</text>
</svg>
</body></html>
